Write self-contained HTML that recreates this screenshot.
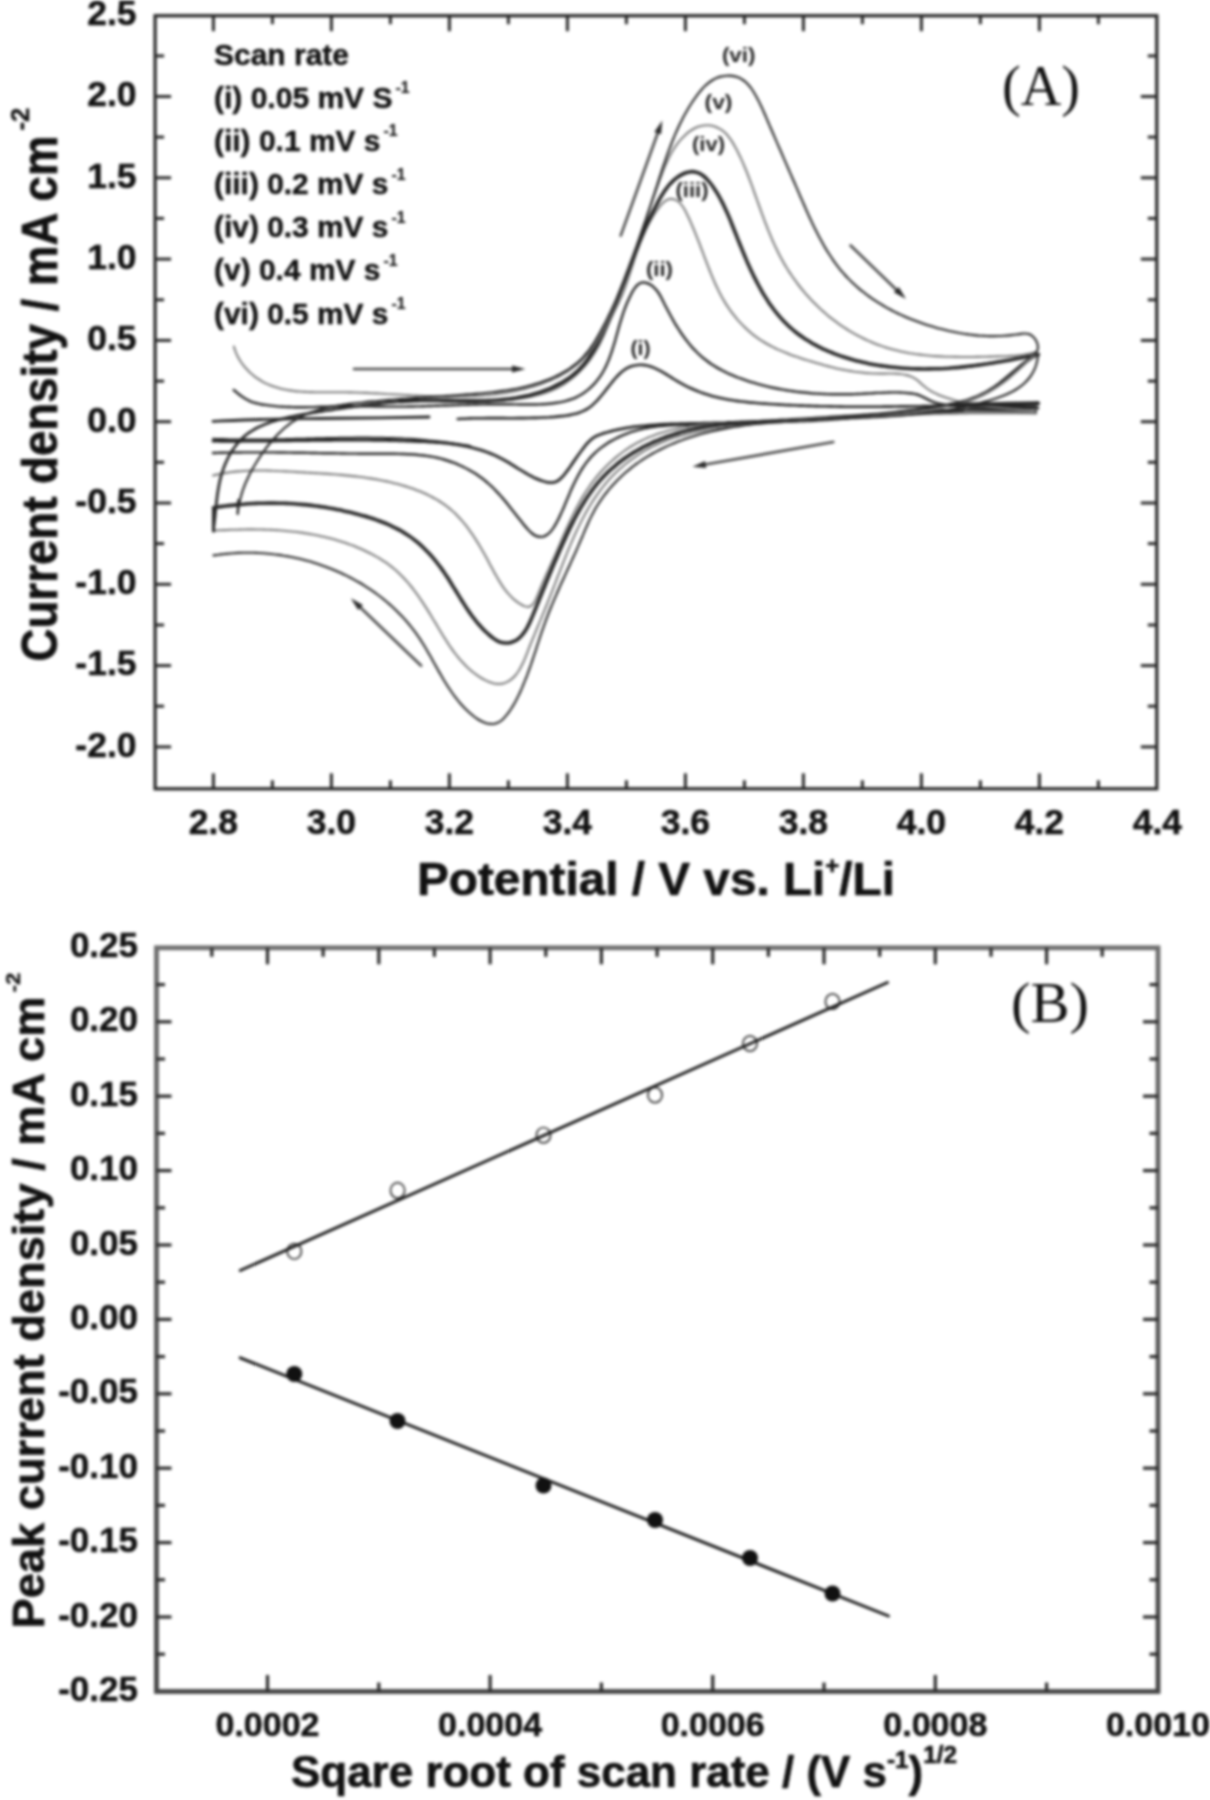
<!DOCTYPE html>
<html lang="en"><head><meta charset="utf-8"><title>Cyclic voltammograms and peak current plot</title>
<style>html,body{margin:0;padding:0;background:#fff;}body{width:1210px;height:1800px;overflow:hidden;}svg{display:block;filter:blur(1.4px);}</style>
</head><body>
<svg width="1210" height="1800" viewBox="0 0 1210 1800">
<rect x="-20" y="-20" width="1250" height="1840" fill="#fff"/>
<g id="plotA">
<rect x="155.1" y="15.7" width="1001.7" height="773.1" fill="none" stroke="#2a2a2a" stroke-width="3.3"/>
<line x1="213.4" y1="788.8" x2="213.4" y2="773.3" stroke="#2a2a2a" stroke-width="3.0" stroke-linecap="butt"/>
<line x1="213.4" y1="15.7" x2="213.4" y2="31.2" stroke="#2a2a2a" stroke-width="3.0" stroke-linecap="butt"/>
<line x1="272.4" y1="788.8" x2="272.4" y2="780.3" stroke="#2a2a2a" stroke-width="3.0" stroke-linecap="butt"/>
<line x1="272.4" y1="15.7" x2="272.4" y2="24.2" stroke="#2a2a2a" stroke-width="3.0" stroke-linecap="butt"/>
<line x1="331.4" y1="788.8" x2="331.4" y2="773.3" stroke="#2a2a2a" stroke-width="3.0" stroke-linecap="butt"/>
<line x1="331.4" y1="15.7" x2="331.4" y2="31.2" stroke="#2a2a2a" stroke-width="3.0" stroke-linecap="butt"/>
<line x1="390.4" y1="788.8" x2="390.4" y2="780.3" stroke="#2a2a2a" stroke-width="3.0" stroke-linecap="butt"/>
<line x1="390.4" y1="15.7" x2="390.4" y2="24.2" stroke="#2a2a2a" stroke-width="3.0" stroke-linecap="butt"/>
<line x1="449.4" y1="788.8" x2="449.4" y2="773.3" stroke="#2a2a2a" stroke-width="3.0" stroke-linecap="butt"/>
<line x1="449.4" y1="15.7" x2="449.4" y2="31.2" stroke="#2a2a2a" stroke-width="3.0" stroke-linecap="butt"/>
<line x1="508.4" y1="788.8" x2="508.4" y2="780.3" stroke="#2a2a2a" stroke-width="3.0" stroke-linecap="butt"/>
<line x1="508.4" y1="15.7" x2="508.4" y2="24.2" stroke="#2a2a2a" stroke-width="3.0" stroke-linecap="butt"/>
<line x1="567.4" y1="788.8" x2="567.4" y2="773.3" stroke="#2a2a2a" stroke-width="3.0" stroke-linecap="butt"/>
<line x1="567.4" y1="15.7" x2="567.4" y2="31.2" stroke="#2a2a2a" stroke-width="3.0" stroke-linecap="butt"/>
<line x1="626.4" y1="788.8" x2="626.4" y2="780.3" stroke="#2a2a2a" stroke-width="3.0" stroke-linecap="butt"/>
<line x1="626.4" y1="15.7" x2="626.4" y2="24.2" stroke="#2a2a2a" stroke-width="3.0" stroke-linecap="butt"/>
<line x1="685.4" y1="788.8" x2="685.4" y2="773.3" stroke="#2a2a2a" stroke-width="3.0" stroke-linecap="butt"/>
<line x1="685.4" y1="15.7" x2="685.4" y2="31.2" stroke="#2a2a2a" stroke-width="3.0" stroke-linecap="butt"/>
<line x1="744.4" y1="788.8" x2="744.4" y2="780.3" stroke="#2a2a2a" stroke-width="3.0" stroke-linecap="butt"/>
<line x1="744.4" y1="15.7" x2="744.4" y2="24.2" stroke="#2a2a2a" stroke-width="3.0" stroke-linecap="butt"/>
<line x1="803.4" y1="788.8" x2="803.4" y2="773.3" stroke="#2a2a2a" stroke-width="3.0" stroke-linecap="butt"/>
<line x1="803.4" y1="15.7" x2="803.4" y2="31.2" stroke="#2a2a2a" stroke-width="3.0" stroke-linecap="butt"/>
<line x1="862.4" y1="788.8" x2="862.4" y2="780.3" stroke="#2a2a2a" stroke-width="3.0" stroke-linecap="butt"/>
<line x1="862.4" y1="15.7" x2="862.4" y2="24.2" stroke="#2a2a2a" stroke-width="3.0" stroke-linecap="butt"/>
<line x1="921.4" y1="788.8" x2="921.4" y2="773.3" stroke="#2a2a2a" stroke-width="3.0" stroke-linecap="butt"/>
<line x1="921.4" y1="15.7" x2="921.4" y2="31.2" stroke="#2a2a2a" stroke-width="3.0" stroke-linecap="butt"/>
<line x1="980.4" y1="788.8" x2="980.4" y2="780.3" stroke="#2a2a2a" stroke-width="3.0" stroke-linecap="butt"/>
<line x1="980.4" y1="15.7" x2="980.4" y2="24.2" stroke="#2a2a2a" stroke-width="3.0" stroke-linecap="butt"/>
<line x1="1039.4" y1="788.8" x2="1039.4" y2="773.3" stroke="#2a2a2a" stroke-width="3.0" stroke-linecap="butt"/>
<line x1="1039.4" y1="15.7" x2="1039.4" y2="31.2" stroke="#2a2a2a" stroke-width="3.0" stroke-linecap="butt"/>
<line x1="1098.4" y1="788.8" x2="1098.4" y2="780.3" stroke="#2a2a2a" stroke-width="3.0" stroke-linecap="butt"/>
<line x1="1098.4" y1="15.7" x2="1098.4" y2="24.2" stroke="#2a2a2a" stroke-width="3.0" stroke-linecap="butt"/>
<line x1="155.1" y1="746.9" x2="171.1" y2="746.9" stroke="#2a2a2a" stroke-width="3.0" stroke-linecap="butt"/>
<line x1="1156.8" y1="746.9" x2="1140.8" y2="746.9" stroke="#2a2a2a" stroke-width="3.0" stroke-linecap="butt"/>
<line x1="155.1" y1="706.2" x2="164.1" y2="706.2" stroke="#2a2a2a" stroke-width="3.0" stroke-linecap="butt"/>
<line x1="1156.8" y1="706.2" x2="1147.8" y2="706.2" stroke="#2a2a2a" stroke-width="3.0" stroke-linecap="butt"/>
<line x1="155.1" y1="665.6" x2="171.1" y2="665.6" stroke="#2a2a2a" stroke-width="3.0" stroke-linecap="butt"/>
<line x1="1156.8" y1="665.6" x2="1140.8" y2="665.6" stroke="#2a2a2a" stroke-width="3.0" stroke-linecap="butt"/>
<line x1="155.1" y1="625" x2="164.1" y2="625" stroke="#2a2a2a" stroke-width="3.0" stroke-linecap="butt"/>
<line x1="1156.8" y1="625" x2="1147.8" y2="625" stroke="#2a2a2a" stroke-width="3.0" stroke-linecap="butt"/>
<line x1="155.1" y1="584.3" x2="171.1" y2="584.3" stroke="#2a2a2a" stroke-width="3.0" stroke-linecap="butt"/>
<line x1="1156.8" y1="584.3" x2="1140.8" y2="584.3" stroke="#2a2a2a" stroke-width="3.0" stroke-linecap="butt"/>
<line x1="155.1" y1="543.6" x2="164.1" y2="543.6" stroke="#2a2a2a" stroke-width="3.0" stroke-linecap="butt"/>
<line x1="1156.8" y1="543.6" x2="1147.8" y2="543.6" stroke="#2a2a2a" stroke-width="3.0" stroke-linecap="butt"/>
<line x1="155.1" y1="503" x2="171.1" y2="503" stroke="#2a2a2a" stroke-width="3.0" stroke-linecap="butt"/>
<line x1="1156.8" y1="503" x2="1140.8" y2="503" stroke="#2a2a2a" stroke-width="3.0" stroke-linecap="butt"/>
<line x1="155.1" y1="462.3" x2="164.1" y2="462.3" stroke="#2a2a2a" stroke-width="3.0" stroke-linecap="butt"/>
<line x1="1156.8" y1="462.3" x2="1147.8" y2="462.3" stroke="#2a2a2a" stroke-width="3.0" stroke-linecap="butt"/>
<line x1="155.1" y1="421.7" x2="171.1" y2="421.7" stroke="#2a2a2a" stroke-width="3.0" stroke-linecap="butt"/>
<line x1="1156.8" y1="421.7" x2="1140.8" y2="421.7" stroke="#2a2a2a" stroke-width="3.0" stroke-linecap="butt"/>
<line x1="155.1" y1="381.1" x2="164.1" y2="381.1" stroke="#2a2a2a" stroke-width="3.0" stroke-linecap="butt"/>
<line x1="1156.8" y1="381.1" x2="1147.8" y2="381.1" stroke="#2a2a2a" stroke-width="3.0" stroke-linecap="butt"/>
<line x1="155.1" y1="340.4" x2="171.1" y2="340.4" stroke="#2a2a2a" stroke-width="3.0" stroke-linecap="butt"/>
<line x1="1156.8" y1="340.4" x2="1140.8" y2="340.4" stroke="#2a2a2a" stroke-width="3.0" stroke-linecap="butt"/>
<line x1="155.1" y1="299.8" x2="164.1" y2="299.8" stroke="#2a2a2a" stroke-width="3.0" stroke-linecap="butt"/>
<line x1="1156.8" y1="299.8" x2="1147.8" y2="299.8" stroke="#2a2a2a" stroke-width="3.0" stroke-linecap="butt"/>
<line x1="155.1" y1="259.1" x2="171.1" y2="259.1" stroke="#2a2a2a" stroke-width="3.0" stroke-linecap="butt"/>
<line x1="1156.8" y1="259.1" x2="1140.8" y2="259.1" stroke="#2a2a2a" stroke-width="3.0" stroke-linecap="butt"/>
<line x1="155.1" y1="218.4" x2="164.1" y2="218.4" stroke="#2a2a2a" stroke-width="3.0" stroke-linecap="butt"/>
<line x1="1156.8" y1="218.4" x2="1147.8" y2="218.4" stroke="#2a2a2a" stroke-width="3.0" stroke-linecap="butt"/>
<line x1="155.1" y1="177.8" x2="171.1" y2="177.8" stroke="#2a2a2a" stroke-width="3.0" stroke-linecap="butt"/>
<line x1="1156.8" y1="177.8" x2="1140.8" y2="177.8" stroke="#2a2a2a" stroke-width="3.0" stroke-linecap="butt"/>
<line x1="155.1" y1="137.1" x2="164.1" y2="137.1" stroke="#2a2a2a" stroke-width="3.0" stroke-linecap="butt"/>
<line x1="1156.8" y1="137.1" x2="1147.8" y2="137.1" stroke="#2a2a2a" stroke-width="3.0" stroke-linecap="butt"/>
<line x1="155.1" y1="96.5" x2="171.1" y2="96.5" stroke="#2a2a2a" stroke-width="3.0" stroke-linecap="butt"/>
<line x1="1156.8" y1="96.5" x2="1140.8" y2="96.5" stroke="#2a2a2a" stroke-width="3.0" stroke-linecap="butt"/>
<line x1="155.1" y1="55.9" x2="164.1" y2="55.9" stroke="#2a2a2a" stroke-width="3.0" stroke-linecap="butt"/>
<line x1="1156.8" y1="55.9" x2="1147.8" y2="55.9" stroke="#2a2a2a" stroke-width="3.0" stroke-linecap="butt"/>
<text x="213.4" y="834" font-family='"Liberation Sans", Arial, sans-serif' font-size="35.5" font-weight="bold" text-anchor="middle" fill="#111" stroke="#111" stroke-width="0.50" stroke-linejoin="round">2.8</text>
<text x="331.4" y="834" font-family='"Liberation Sans", Arial, sans-serif' font-size="35.5" font-weight="bold" text-anchor="middle" fill="#111" stroke="#111" stroke-width="0.50" stroke-linejoin="round">3.0</text>
<text x="449.4" y="834" font-family='"Liberation Sans", Arial, sans-serif' font-size="35.5" font-weight="bold" text-anchor="middle" fill="#111" stroke="#111" stroke-width="0.50" stroke-linejoin="round">3.2</text>
<text x="567.4" y="834" font-family='"Liberation Sans", Arial, sans-serif' font-size="35.5" font-weight="bold" text-anchor="middle" fill="#111" stroke="#111" stroke-width="0.50" stroke-linejoin="round">3.4</text>
<text x="685.4" y="834" font-family='"Liberation Sans", Arial, sans-serif' font-size="35.5" font-weight="bold" text-anchor="middle" fill="#111" stroke="#111" stroke-width="0.50" stroke-linejoin="round">3.6</text>
<text x="803.4" y="834" font-family='"Liberation Sans", Arial, sans-serif' font-size="35.5" font-weight="bold" text-anchor="middle" fill="#111" stroke="#111" stroke-width="0.50" stroke-linejoin="round">3.8</text>
<text x="921.4" y="834" font-family='"Liberation Sans", Arial, sans-serif' font-size="35.5" font-weight="bold" text-anchor="middle" fill="#111" stroke="#111" stroke-width="0.50" stroke-linejoin="round">4.0</text>
<text x="1039.4" y="834" font-family='"Liberation Sans", Arial, sans-serif' font-size="35.5" font-weight="bold" text-anchor="middle" fill="#111" stroke="#111" stroke-width="0.50" stroke-linejoin="round">4.2</text>
<text x="1157.4" y="834" font-family='"Liberation Sans", Arial, sans-serif' font-size="35.5" font-weight="bold" text-anchor="middle" fill="#111" stroke="#111" stroke-width="0.50" stroke-linejoin="round">4.4</text>
<text x="136.5" y="25" font-family='"Liberation Sans", Arial, sans-serif' font-size="35.5" font-weight="bold" text-anchor="end" fill="#111" stroke="#111" stroke-width="0.50" stroke-linejoin="round">2.5</text>
<text x="136.5" y="106.3" font-family='"Liberation Sans", Arial, sans-serif' font-size="35.5" font-weight="bold" text-anchor="end" fill="#111" stroke="#111" stroke-width="0.50" stroke-linejoin="round">2.0</text>
<text x="136.5" y="187.6" font-family='"Liberation Sans", Arial, sans-serif' font-size="35.5" font-weight="bold" text-anchor="end" fill="#111" stroke="#111" stroke-width="0.50" stroke-linejoin="round">1.5</text>
<text x="136.5" y="268.9" font-family='"Liberation Sans", Arial, sans-serif' font-size="35.5" font-weight="bold" text-anchor="end" fill="#111" stroke="#111" stroke-width="0.50" stroke-linejoin="round">1.0</text>
<text x="136.5" y="350.2" font-family='"Liberation Sans", Arial, sans-serif' font-size="35.5" font-weight="bold" text-anchor="end" fill="#111" stroke="#111" stroke-width="0.50" stroke-linejoin="round">0.5</text>
<text x="136.5" y="431.5" font-family='"Liberation Sans", Arial, sans-serif' font-size="35.5" font-weight="bold" text-anchor="end" fill="#111" stroke="#111" stroke-width="0.50" stroke-linejoin="round">0.0</text>
<text x="136.5" y="512.8" font-family='"Liberation Sans", Arial, sans-serif' font-size="35.5" font-weight="bold" text-anchor="end" fill="#111" stroke="#111" stroke-width="0.50" stroke-linejoin="round">-0.5</text>
<text x="136.5" y="594.1" font-family='"Liberation Sans", Arial, sans-serif' font-size="35.5" font-weight="bold" text-anchor="end" fill="#111" stroke="#111" stroke-width="0.50" stroke-linejoin="round">-1.0</text>
<text x="136.5" y="675.4" font-family='"Liberation Sans", Arial, sans-serif' font-size="35.5" font-weight="bold" text-anchor="end" fill="#111" stroke="#111" stroke-width="0.50" stroke-linejoin="round">-1.5</text>
<text x="136.5" y="756.7" font-family='"Liberation Sans", Arial, sans-serif' font-size="35.5" font-weight="bold" text-anchor="end" fill="#111" stroke="#111" stroke-width="0.50" stroke-linejoin="round">-2.0</text>
<text x="417" y="895" font-family='"Liberation Sans", Arial, sans-serif' font-size="46" font-weight="bold" text-anchor="start" fill="#111" textLength="478" lengthAdjust="spacingAndGlyphs" stroke="#111" stroke-width="0.64" stroke-linejoin="round">Potential / V vs. Li<tspan dy="-21" font-size="23">+</tspan><tspan dy="21">/Li</tspan></text>
<g transform="translate(57.3 661.5) rotate(-90)">
<text x="0" y="0" font-family='"Liberation Sans", Arial, sans-serif' font-size="49.5" font-weight="bold" text-anchor="start" fill="#111" textLength="526" lengthAdjust="spacingAndGlyphs" stroke="#111" stroke-width="0.69" stroke-linejoin="round">Current density / mA cm</text>
<text x="531" y="-28.5" font-family='"Liberation Sans", Arial, sans-serif' font-size="25" font-weight="bold" text-anchor="start" fill="#111" textLength="23" lengthAdjust="spacingAndGlyphs" stroke="#111" stroke-width="0.35" stroke-linejoin="round">-2</text>
</g>
<text x="1041" y="105" font-family='"Liberation Serif", "Times New Roman", serif' font-size="56" font-weight="normal" text-anchor="middle" fill="#111" textLength="78" lengthAdjust="spacingAndGlyphs">(A)</text>
<text x="214" y="64.7" font-family='"Liberation Sans", Arial, sans-serif' font-size="29" font-weight="bold" text-anchor="start" fill="#111" textLength="135" lengthAdjust="spacingAndGlyphs" stroke="#111" stroke-width="0.41" stroke-linejoin="round">Scan rate</text>
<text x="214" y="107.6" font-family='"Liberation Sans", Arial, sans-serif' font-size="29" font-weight="bold" text-anchor="start" fill="#111" textLength="178.5" lengthAdjust="spacingAndGlyphs" stroke="#111" stroke-width="0.41" stroke-linejoin="round">(i) 0.05 mV S</text>
<text x="395.5" y="93.1" font-family='"Liberation Sans", Arial, sans-serif' font-size="16" font-weight="bold" text-anchor="start" fill="#111" textLength="14" lengthAdjust="spacingAndGlyphs" stroke="#111" stroke-width="0.22" stroke-linejoin="round">-1</text>
<text x="214" y="150.8" font-family='"Liberation Sans", Arial, sans-serif' font-size="29" font-weight="bold" text-anchor="start" fill="#111" textLength="166.5" lengthAdjust="spacingAndGlyphs" stroke="#111" stroke-width="0.41" stroke-linejoin="round">(ii) 0.1 mV s</text>
<text x="383.5" y="136.3" font-family='"Liberation Sans", Arial, sans-serif' font-size="16" font-weight="bold" text-anchor="start" fill="#111" textLength="14" lengthAdjust="spacingAndGlyphs" stroke="#111" stroke-width="0.22" stroke-linejoin="round">-1</text>
<text x="214" y="194" font-family='"Liberation Sans", Arial, sans-serif' font-size="29" font-weight="bold" text-anchor="start" fill="#111" textLength="174.5" lengthAdjust="spacingAndGlyphs" stroke="#111" stroke-width="0.41" stroke-linejoin="round">(iii) 0.2 mV s</text>
<text x="391.5" y="179.5" font-family='"Liberation Sans", Arial, sans-serif' font-size="16" font-weight="bold" text-anchor="start" fill="#111" textLength="14" lengthAdjust="spacingAndGlyphs" stroke="#111" stroke-width="0.22" stroke-linejoin="round">-1</text>
<text x="214" y="237.2" font-family='"Liberation Sans", Arial, sans-serif' font-size="29" font-weight="bold" text-anchor="start" fill="#111" textLength="174.5" lengthAdjust="spacingAndGlyphs" stroke="#111" stroke-width="0.41" stroke-linejoin="round">(iv) 0.3 mV s</text>
<text x="391.5" y="222.7" font-family='"Liberation Sans", Arial, sans-serif' font-size="16" font-weight="bold" text-anchor="start" fill="#111" textLength="14" lengthAdjust="spacingAndGlyphs" stroke="#111" stroke-width="0.22" stroke-linejoin="round">-1</text>
<text x="214" y="280.4" font-family='"Liberation Sans", Arial, sans-serif' font-size="29" font-weight="bold" text-anchor="start" fill="#111" textLength="166.5" lengthAdjust="spacingAndGlyphs" stroke="#111" stroke-width="0.41" stroke-linejoin="round">(v) 0.4 mV s</text>
<text x="383.5" y="265.9" font-family='"Liberation Sans", Arial, sans-serif' font-size="16" font-weight="bold" text-anchor="start" fill="#111" textLength="14" lengthAdjust="spacingAndGlyphs" stroke="#111" stroke-width="0.22" stroke-linejoin="round">-1</text>
<text x="214" y="323.6" font-family='"Liberation Sans", Arial, sans-serif' font-size="29" font-weight="bold" text-anchor="start" fill="#111" textLength="174.5" lengthAdjust="spacingAndGlyphs" stroke="#111" stroke-width="0.41" stroke-linejoin="round">(vi) 0.5 mV s</text>
<text x="391.5" y="309.1" font-family='"Liberation Sans", Arial, sans-serif' font-size="16" font-weight="bold" text-anchor="start" fill="#111" textLength="14" lengthAdjust="spacingAndGlyphs" stroke="#111" stroke-width="0.22" stroke-linejoin="round">-1</text>
<path d="M213 421.3C220.8 421 242.2 420 260 419.5C277.8 419 300 418.8 320 418.5C340 418.2 361.8 418.1 380 417.8C398.2 417.6 420.8 417.1 429 417" fill="none" stroke="#262626" stroke-width="2.8" stroke-linecap="round" stroke-linejoin="round"/>
<path d="M457.7 419C458.6 419 461.1 418.8 462.7 418.7C464.4 418.7 466.1 418.6 467.7 418.5C469.4 418.4 471.1 418.4 472.8 418.3C474.4 418.3 476.1 418.3 477.8 418.2C479.5 418.2 481.2 418.2 482.9 418.2C484.5 418.1 486.2 418.1 487.9 418.1C489.6 418.1 491.3 418.1 493 418.1C494.7 418.1 496.4 418.1 498.1 418.1C499.8 418.1 501.5 418.1 503.2 418.1C504.9 418.1 506.6 418.1 508.3 418.2C510 418.2 511.7 418.2 513.4 418.2C515.1 418.2 516.8 418.2 518.5 418.1C520.2 418.1 521.9 418.1 523.6 418.1C525.3 418.1 527 418.1 528.7 418C530.4 418 532.1 418 533.8 417.9C535.5 417.9 537.2 417.8 538.9 417.8C540.6 417.7 542.3 417.6 544 417.5C545.7 417.5 547.4 417.4 549.1 417.3C550.8 417.1 552.5 417 554.2 416.9C555.8 416.7 557.5 416.6 559.2 416.4C560.9 416.3 562.6 416.1 564.3 415.9C565.9 415.6 567.6 415.4 569.2 415.1C570.9 414.8 572.5 414.5 574.1 414.1C575.7 413.7 577.3 413.3 578.9 412.7C580.4 412.2 581.9 411.6 583.4 410.9C584.9 410.2 586.3 409.5 587.7 408.6C589.1 407.7 590.4 406.7 591.7 405.7C593 404.6 594.2 403.5 595.5 402.2C596.7 401 597.9 399.7 599 398.4C600.2 397.1 601.4 395.7 602.5 394.3C603.6 392.9 604.7 391.5 605.8 390.1C606.9 388.6 608 387.2 609.2 385.8C610.3 384.4 611.4 383 612.5 381.6C613.6 380.3 614.7 378.9 615.9 377.6C617 376.4 618.2 375.1 619.4 374C620.6 372.9 621.8 371.8 623.1 370.8C624.4 369.9 625.7 369 627 368.2C628.4 367.5 629.8 366.8 631.2 366.3C632.7 365.8 634.2 365.4 635.7 365.2C637.2 364.9 638.7 364.8 640.3 364.8C641.8 364.8 643.4 364.9 645 365.1C646.5 365.4 648.1 365.7 649.7 366.2C651.2 366.7 652.8 367.3 654.3 367.9C655.9 368.6 657.4 369.4 658.9 370.2C660.5 371 662 371.8 663.5 372.7C665.1 373.6 666.6 374.6 668.1 375.5C669.6 376.5 671.1 377.4 672.6 378.4C674.2 379.3 675.7 380.2 677.2 381.1C678.7 382 680.2 382.9 681.7 383.7C683.2 384.5 684.7 385.3 686.3 386.1C687.8 386.9 689.3 387.6 690.8 388.3C692.3 389 693.9 389.7 695.4 390.3C696.9 390.9 698.5 391.5 700.1 392.1C701.6 392.7 703.2 393.2 704.8 393.8C706.3 394.3 707.9 394.8 709.5 395.2C711.1 395.7 712.7 396.1 714.3 396.6C715.9 397 717.6 397.4 719.2 397.7C720.8 398.1 722.5 398.4 724.1 398.8C725.7 399.1 727.4 399.4 729 399.7C730.7 400 732.4 400.2 734 400.5C735.7 400.7 737.4 401 739 401.2C740.7 401.4 742.4 401.6 744.1 401.8C745.7 402 747.4 402.2 749.1 402.4C750.8 402.5 752.5 402.7 754.2 402.8C755.9 403 757.6 403.1 759.3 403.2C761 403.4 762.7 403.5 764.4 403.6C766.1 403.7 767.7 403.9 769.4 404C771.1 404.1 772.8 404.2 774.5 404.3C776.2 404.4 777.9 404.5 779.6 404.6C781.3 404.7 783 404.8 784.7 404.9C786.4 404.9 788.1 405 789.8 405.1C791.5 405.2 793.2 405.3 794.9 405.3C796.6 405.4 798.2 405.5 799.9 405.6C801.6 405.6 803.3 405.7 805 405.7C806.7 405.8 808.4 405.9 810.1 405.9C811.8 406 813.5 406 815.2 406.1C816.9 406.1 818.5 406.2 820.2 406.2C821.9 406.3 823.6 406.3 825.3 406.3C827 406.4 828.7 406.4 830.4 406.4C832.1 406.5 833.7 406.5 835.4 406.5C837.1 406.6 838.8 406.6 840.5 406.6C842.2 406.6 843.9 406.6 845.6 406.7C847.3 406.7 848.9 406.7 850.6 406.7C852.3 406.7 854 406.7 855.7 406.7C857.4 406.7 859.1 406.7 860.8 406.7C862.5 406.7 864.1 406.7 865.8 406.7C867.5 406.7 869.2 406.7 870.9 406.7C872.6 406.7 874.3 406.7 875.9 406.7C877.6 406.7 879.3 406.7 881 406.7C882.7 406.7 884.4 406.6 886.1 406.6C887.8 406.6 889.4 406.6 891.1 406.6C892.8 406.6 894.5 406.5 896.2 406.5C897.9 406.5 899.6 406.5 901.2 406.4C902.9 406.4 904.6 406.4 906.3 406.4C908 406.3 909.7 406.3 911.4 406.3C913.1 406.2 914.7 406.2 916.4 406.2C918.1 406.1 919.8 406.1 921.5 406.1C923.2 406 924.9 406 926.5 406C928.2 405.9 929.9 405.9 931.6 405.9C933.3 405.8 935 405.8 936.7 405.7C938.3 405.7 940 405.6 941.7 405.6C943.4 405.6 945.1 405.5 946.8 405.5C948.5 405.4 950.2 405.4 951.8 405.3C953.5 405.3 955.2 405.3 956.9 405.2C958.6 405.2 960.3 405.1 962 405.1C963.7 405 965.3 405 967 404.9C968.7 404.9 970.4 404.8 972.1 404.8C973.8 404.7 975.5 404.7 977.2 404.7C978.8 404.6 980.5 404.6 982.2 404.5C983.9 404.5 985.6 404.4 987.3 404.4C989 404.3 990.7 404.3 992.4 404.2C994.1 404.2 995.7 404.1 997.4 404.1C999.1 404 1000.8 404 1002.5 404C1004.2 403.9 1005.9 403.9 1007.6 403.8C1009.3 403.8 1011 403.7 1012.6 403.7C1014.3 403.7 1016 403.6 1017.7 403.6C1019.4 403.5 1021.1 403.5 1022.8 403.4C1024.5 403.4 1026.2 403.4 1027.9 403.3C1029.6 403.3 1031.3 403.3 1033 403.2C1034.6 403.2 1037.2 403.1 1038 403.1" fill="none" stroke="#262626" stroke-width="2.6" stroke-linecap="round" stroke-linejoin="round"/>
<path d="M1038 408.2C1037.2 408.2 1034.7 408.2 1033 408.2C1031.3 408.2 1029.6 408.2 1027.9 408.2C1026.2 408.2 1024.6 408.2 1022.9 408.2C1021.2 408.2 1019.5 408.2 1017.8 408.3C1016.1 408.3 1014.5 408.3 1012.8 408.3C1011.1 408.3 1009.4 408.4 1007.7 408.4C1006 408.4 1004.4 408.4 1002.7 408.5C1001 408.5 999.3 408.5 997.6 408.6C996 408.6 994.3 408.7 992.6 408.7C990.9 408.7 989.2 408.8 987.6 408.8C985.9 408.9 984.2 408.9 982.5 409C980.8 409 979.2 409.1 977.5 409.1C975.8 409.2 974.1 409.2 972.4 409.3C970.8 409.4 969.1 409.4 967.4 409.5C965.7 409.5 964 409.6 962.4 409.7C960.7 409.7 959 409.8 957.3 409.9C955.6 409.9 954 410 952.3 410.1C950.6 410.2 948.9 410.2 947.3 410.3C945.6 410.4 943.9 410.5 942.2 410.5C940.5 410.6 938.9 410.7 937.2 410.8C935.5 410.9 933.8 410.9 932.2 411C930.5 411.1 928.8 411.2 927.1 411.3C925.5 411.4 923.8 411.5 922.1 411.6C920.4 411.6 918.8 411.7 917.1 411.8C915.4 411.9 913.7 412 912 412.1C910.4 412.2 908.7 412.3 907 412.4C905.3 412.5 903.7 412.6 902 412.7C900.3 412.8 898.6 412.9 897 413C895.3 413.1 893.6 413.2 891.9 413.3C890.3 413.4 888.6 413.5 886.9 413.6C885.2 413.7 883.6 413.8 881.9 413.9C880.2 414 878.5 414.1 876.9 414.2C875.2 414.3 873.5 414.4 871.8 414.5C870.2 414.6 868.5 414.7 866.8 414.8C865.1 414.9 863.5 415 861.8 415.1C860.1 415.2 858.4 415.3 856.8 415.5C855.1 415.6 853.4 415.7 851.7 415.8C850.1 415.9 848.4 416 846.7 416.1C845 416.2 843.4 416.3 841.7 416.4C840 416.5 838.3 416.6 836.7 416.7C835 416.8 833.3 416.9 831.6 417C830 417.2 828.3 417.3 826.6 417.4C824.9 417.5 823.2 417.6 821.6 417.7C819.9 417.8 818.2 417.9 816.5 418C814.9 418.1 813.2 418.2 811.5 418.3C809.8 418.4 808.2 418.5 806.5 418.6C804.8 418.7 803.1 418.8 801.5 418.9C799.8 419 798.1 419.1 796.4 419.2C794.8 419.3 793.1 419.4 791.4 419.5C789.7 419.6 788 419.7 786.4 419.8C784.7 419.9 783 420 781.3 420C779.7 420.1 778 420.2 776.3 420.3C774.6 420.4 772.9 420.5 771.3 420.6C769.6 420.7 767.9 420.8 766.2 420.8C764.6 420.9 762.9 421 761.2 421.1C759.5 421.2 757.8 421.3 756.2 421.3C754.5 421.4 752.8 421.5 751.1 421.6C749.4 421.6 747.8 421.7 746.1 421.8C744.4 421.9 742.7 421.9 741 422C739.4 422.1 737.7 422.1 736 422.2C734.3 422.3 732.6 422.3 731 422.4C729.3 422.5 727.6 422.5 725.9 422.6C724.2 422.6 722.5 422.7 720.9 422.8C719.2 422.8 717.5 422.9 715.8 422.9C714.1 423 712.4 423 710.8 423.1C709.1 423.1 707.4 423.2 705.7 423.2C704 423.2 702.3 423.3 700.7 423.3C699 423.3 697.3 423.4 695.6 423.4C693.9 423.5 692.2 423.5 690.5 423.5C688.9 423.6 687.2 423.6 685.5 423.6C683.8 423.7 682.1 423.7 680.4 423.7C678.8 423.8 677.1 423.8 675.4 423.9C673.7 423.9 672 424 670.3 424C668.7 424.1 667 424.1 665.3 424.2C663.6 424.3 661.9 424.4 660.3 424.5C658.6 424.6 656.9 424.7 655.2 424.8C653.6 424.9 651.9 425 650.2 425.1C648.6 425.3 646.9 425.4 645.2 425.6C643.6 425.7 641.9 425.9 640.2 426.1C638.6 426.3 636.9 426.5 635.3 426.7C633.6 426.9 632 427.1 630.3 427.4C628.7 427.6 627 427.9 625.4 428.2C623.7 428.5 622.1 428.8 620.4 429.1C618.8 429.4 617.2 429.8 615.5 430.2C613.9 430.5 612.3 430.9 610.6 431.3C609 431.8 607.4 432.2 605.8 432.7C604.1 433.1 602.5 433.6 601 434.2C599.4 434.8 597.8 435.4 596.4 436.1C594.9 436.9 593.5 437.7 592.2 438.7C590.9 439.7 589.6 440.9 588.5 442.1C587.3 443.3 586.2 444.6 585.1 445.9C584.1 447.2 583 448.6 582 450C581 451.3 580 452.7 579 454C578 455.4 577.1 456.7 576.1 458.1C575.1 459.5 574.1 460.9 573.1 462.4C572.2 463.8 571.2 465.3 570.2 466.7C569.1 468.2 568.1 469.7 567 471.1C565.9 472.6 564.8 474 563.7 475.4C562.5 476.7 561.3 478.1 560 479.1C558.7 480.2 557.4 481.1 556 481.7C554.6 482.3 553.2 482.6 551.7 482.7C550.2 482.8 548.7 482.5 547.2 482.3C545.7 482 544.1 481.5 542.6 481C541.1 480.6 539.6 480 538.1 479.4C536.6 478.7 535.1 478.1 533.6 477.4C532.2 476.6 530.7 475.9 529.2 475.1C527.8 474.3 526.3 473.4 524.8 472.6C523.4 471.7 521.9 470.8 520.4 469.9C519 469.1 517.5 468.1 516 467.2C514.6 466.3 513.1 465.4 511.6 464.5C510.2 463.6 508.7 462.7 507.2 461.8C505.7 461 504.2 460.1 502.7 459.3C501.2 458.5 499.7 457.7 498.2 456.9C496.6 456.2 495.1 455.5 493.6 454.8C492 454.1 490.5 453.5 488.9 452.9C487.3 452.3 485.8 451.7 484.2 451.1C482.6 450.6 481 450.1 479.4 449.6C477.8 449.1 476.2 448.7 474.6 448.3C473 447.9 471.3 447.5 469.7 447.1C468.1 446.7 466.4 446.4 464.8 446.1C463.2 445.7 461.5 445.4 459.9 445.2C458.2 444.9 456.6 444.6 454.9 444.4C453.2 444.2 451.6 443.9 449.9 443.7C448.2 443.5 446.5 443.4 444.9 443.2C443.2 443 441.5 442.9 439.8 442.7C438.1 442.6 436.5 442.5 434.8 442.3C433.1 442.2 431.4 442.1 429.7 442C428 441.9 426.3 441.8 424.7 441.7C423 441.7 421.3 441.6 419.6 441.5C417.9 441.4 416.2 441.3 414.5 441.3C412.8 441.2 411.2 441.1 409.5 441.1C407.8 441 406.1 441 404.4 440.9C402.7 440.9 401 440.8 399.4 440.8C397.7 440.7 396 440.7 394.3 440.6C392.6 440.6 390.9 440.5 389.3 440.5C387.6 440.5 385.9 440.4 384.2 440.4C382.5 440.4 380.9 440.4 379.2 440.3C377.5 440.3 375.8 440.3 374.1 440.3C372.5 440.2 370.8 440.2 369.1 440.2C367.4 440.2 365.8 440.2 364.1 440.2C362.4 440.2 360.7 440.2 359.1 440.2C357.4 440.2 355.7 440.2 354 440.2C352.3 440.2 350.7 440.2 349 440.2C347.3 440.2 345.6 440.2 344 440.2C342.3 440.2 340.6 440.2 338.9 440.2C337.3 440.2 335.6 440.2 333.9 440.2C332.2 440.2 330.6 440.3 328.9 440.3C327.2 440.3 325.5 440.3 323.9 440.3C322.2 440.3 320.5 440.4 318.8 440.4C317.2 440.4 315.5 440.4 313.8 440.4C312.1 440.4 310.5 440.5 308.8 440.5C307.1 440.5 305.4 440.5 303.8 440.6C302.1 440.6 300.4 440.6 298.7 440.6C297.1 440.6 295.4 440.7 293.7 440.7C292 440.7 290.4 440.7 288.7 440.8C287 440.8 285.3 440.8 283.7 440.8C282 440.9 280.3 440.9 278.6 440.9C276.9 440.9 275.3 440.9 273.6 441C271.9 441 270.2 441 268.6 441C266.9 441 265.2 441.1 263.5 441.1C261.8 441.1 260.2 441.1 258.5 441.1C256.8 441.1 255.1 441.2 253.4 441.2C251.8 441.2 250.1 441.2 248.4 441.2C246.7 441.2 245 441.2 243.3 441.2C241.7 441.2 240 441.3 238.3 441.3C236.6 441.3 234.9 441.3 233.2 441.3C231.6 441.3 229.9 441.3 228.2 441.3C226.5 441.3 224.8 441.3 223.1 441.3C221.4 441.3 219.7 441.2 218.1 441.2C216.4 441.2 213.8 441.2 213 441.2" fill="none" stroke="#262626" stroke-width="2.8" stroke-linecap="round" stroke-linejoin="round"/>
<path d="M213 438.7C213.9 438.8 216.4 438.9 218.1 438.9C219.8 439 221.6 439.1 223.3 439.1C225 439.2 226.7 439.2 228.4 439.3C230.1 439.3 231.8 439.3 233.5 439.4C235.2 439.4 237 439.4 238.7 439.4C240.4 439.5 242.1 439.5 243.8 439.5C245.5 439.5 247.3 439.5 249 439.5C250.7 439.5 252.4 439.5 254.1 439.5C255.8 439.5 257.6 439.5 259.3 439.5C261 439.4 262.7 439.4 264.4 439.4C266.1 439.4 267.9 439.4 269.6 439.4C271.3 439.3 273 439.3 274.7 439.3C276.5 439.2 278.2 439.2 279.9 439.2C281.6 439.1 283.3 439.1 285.1 439.1C286.8 439 288.5 439 290.2 439C291.9 438.9 293.7 438.9 295.4 438.8C297.1 438.8 298.8 438.8 300.5 438.7C302.3 438.7 304 438.6 305.7 438.6C307.4 438.5 309.2 438.5 310.9 438.5C312.6 438.4 314.3 438.4 316 438.3C317.8 438.3 319.5 438.3 321.2 438.2C322.9 438.2 324.6 438.1 326.4 438.1C328.1 438.1 329.8 438 331.5 438C333.3 438 335 437.9 336.7 437.9C338.4 437.9 340.1 437.8 341.9 437.8C343.6 437.8 345.3 437.8 347 437.7C348.7 437.7 350.5 437.7 352.2 437.7C353.9 437.7 355.6 437.7 357.3 437.6C359.1 437.6 360.8 437.6 362.5 437.6C364.2 437.6 365.9 437.6 367.7 437.6C369.4 437.7 371.1 437.7 372.8 437.7C374.5 437.7 376.2 437.7 378 437.7C379.7 437.8 381.4 437.8 383.1 437.8C384.8 437.9 386.5 437.9 388.3 438C390 438 391.7 438.1 393.4 438.1C395.1 438.2 396.8 438.2 398.5 438.3C400.3 438.4 402 438.5 403.7 438.6C405.4 438.6 407.1 438.7 408.8 438.8C410.5 438.9 412.2 439 413.9 439.1C415.7 439.3 417.4 439.4 419.1 439.5C420.8 439.6 422.5 439.8 424.2 439.9C425.9 440.1 427.6 440.2 429.3 440.4C431 440.5 432.7 440.7 434.4 440.9C436.1 441.1 437.8 441.3 439.5 441.4C441.2 441.6 442.9 441.9 444.6 442.1C446.3 442.3 448 442.5 449.7 442.7C451.4 443 453.1 443.2 454.8 443.5C456.5 443.7 458.2 444 459.9 444.3C461.6 444.6 463.3 444.8 465 445.1C466.7 445.4 469.2 445.9 470.1 446.1" fill="none" stroke="#262626" stroke-width="2.0" stroke-linecap="round" stroke-linejoin="round"/>
<path d="M233.7 390C234.4 390.5 236.3 392.1 237.6 393.2C238.9 394.2 240.2 395.3 241.6 396.3C243 397.2 244.4 398.2 245.9 399C247.4 399.9 248.9 400.6 250.4 401.3C251.9 401.9 253.5 402.5 255.1 402.9C256.7 403.4 258.4 403.7 260 404.1C261.7 404.4 263.3 404.7 265 404.9C266.7 405.2 268.3 405.4 270 405.6C271.7 405.8 273.3 406 275 406.1C276.7 406.3 278.3 406.4 280 406.6C281.7 406.7 283.3 406.8 285 406.9C286.7 406.9 288.4 407 290 407C291.7 407.1 293.4 407.1 295.1 407.2C296.7 407.2 298.4 407.2 300.1 407.2C301.8 407.2 303.5 407.2 305.1 407.2C306.8 407.1 308.5 407.1 310.2 407.1C311.9 407 313.5 407 315.2 407C316.9 406.9 318.6 406.9 320.3 406.8C322 406.8 323.6 406.7 325.3 406.7C327 406.6 328.7 406.6 330.4 406.5C332 406.5 333.7 406.4 335.4 406.4C337.1 406.4 338.8 406.3 340.5 406.3C342.1 406.3 343.8 406.3 345.5 406.3C347.2 406.2 348.8 406.2 350.5 406.2C352.2 406.2 353.9 406.2 355.6 406.3C357.2 406.3 358.9 406.3 360.6 406.3C362.3 406.3 363.9 406.3 365.6 406.3C367.3 406.4 369 406.4 370.6 406.4C372.3 406.4 374 406.4 375.7 406.5C377.4 406.5 379 406.5 380.7 406.5C382.4 406.5 384.1 406.6 385.7 406.6C387.4 406.6 389.1 406.6 390.8 406.6C392.4 406.6 394.1 406.6 395.8 406.6C397.5 406.6 399.1 406.6 400.8 406.6C402.5 406.6 404.2 406.6 405.9 406.6C407.5 406.6 409.2 406.5 410.9 406.5C412.6 406.5 414.3 406.4 415.9 406.4C417.6 406.4 419.3 406.3 421 406.3C422.7 406.2 424.3 406.2 426 406.1C427.7 406.1 429.4 406 431.1 406C432.7 405.9 434.4 405.9 436.1 405.8C437.8 405.8 439.5 405.7 441.1 405.6C442.8 405.6 444.5 405.5 446.2 405.5C447.9 405.4 449.5 405.3 451.2 405.3C452.9 405.2 454.6 405.1 456.3 405.1C457.9 405 459.6 405 461.3 404.9C463 404.9 464.7 404.8 466.3 404.8C468 404.7 469.7 404.7 471.4 404.6C473 404.6 474.7 404.5 476.4 404.5C478.1 404.4 479.8 404.4 481.4 404.4C483.1 404.3 484.8 404.3 486.5 404.3C488.1 404.2 489.8 404.2 491.5 404.2C493.2 404.2 494.8 404.2 496.5 404.2C498.2 404.2 499.8 404.2 501.5 404.2C503.2 404.2 504.9 404.2 506.5 404.2C508.2 404.3 509.9 404.3 511.5 404.3C513.2 404.3 514.9 404.4 516.6 404.4C518.2 404.4 519.9 404.5 521.6 404.5C523.2 404.5 524.9 404.5 526.6 404.5C528.3 404.5 529.9 404.5 531.6 404.5C533.3 404.5 535 404.5 536.7 404.5C538.4 404.4 540.1 404.4 541.8 404.3C543.5 404.2 545.2 404.1 546.8 404C548.5 403.9 550.2 403.7 551.9 403.5C553.6 403.3 555.3 403.1 556.9 402.8C558.6 402.6 560.3 402.3 561.9 401.9C563.5 401.6 565.2 401.2 566.8 400.7C568.4 400.3 569.9 399.8 571.5 399.2C573.1 398.6 574.6 398 576.1 397.3C577.6 396.6 579.1 395.8 580.5 395C582 394.2 583.4 393.2 584.8 392.3C586.2 391.3 587.5 390.3 588.8 389.2C590.1 388.1 591.3 386.9 592.5 385.7C593.7 384.5 594.8 383.3 595.9 382C597 380.7 598 379.4 599 378.1C600 376.7 600.9 375.3 601.8 373.9C602.7 372.5 603.5 371 604.3 369.5C605.1 368.1 605.8 366.6 606.5 365C607.2 363.5 607.9 362 608.5 360.4C609.2 358.9 609.8 357.3 610.3 355.7C610.9 354.1 611.5 352.5 612 350.9C612.5 349.3 613 347.6 613.5 346C614 344.4 614.5 342.8 615 341.1C615.4 339.5 615.9 337.9 616.3 336.3C616.8 334.6 617.2 333 617.7 331.4C618.1 329.8 618.6 328.2 619 326.6C619.5 325 619.9 323.5 620.4 321.9C620.9 320.3 621.4 318.8 621.9 317.2C622.4 315.6 622.9 314.1 623.4 312.5C624 310.9 624.5 309.4 625.1 307.8C625.7 306.3 626.3 304.7 627 303.1C627.7 301.5 628.4 300 629.1 298.4C629.9 296.8 630.7 295.1 631.5 293.5C632.3 292 633.2 290.3 634.2 288.9C635.2 287.4 636.2 286 637.4 285C638.6 284 639.9 283.1 641.3 282.7C642.7 282.4 644.3 282.3 645.8 282.7C647.3 283 648.9 283.7 650.3 284.6C651.8 285.4 653.1 286.6 654.4 287.8C655.6 288.9 656.6 290.2 657.6 291.5C658.6 292.9 659.4 294.3 660.2 295.7C661.1 297.2 661.8 298.7 662.6 300.2C663.3 301.7 664.1 303.2 664.8 304.8C665.6 306.3 666.4 307.8 667.2 309.3C668 310.8 668.8 312.3 669.6 313.8C670.4 315.3 671.2 316.8 672.1 318.3C672.9 319.8 673.8 321.3 674.6 322.8C675.5 324.3 676.4 325.7 677.3 327.2C678.2 328.6 679.1 330.1 680.1 331.5C681 332.9 682 334.3 683 335.7C684 337.1 685 338.4 686 339.8C687 341.1 688.1 342.4 689.1 343.7C690.2 345 691.3 346.3 692.4 347.6C693.5 348.8 694.7 350 695.9 351.2C697 352.4 698.2 353.6 699.4 354.7C700.7 355.8 701.9 356.9 703.2 358C704.5 359 705.8 360 707.1 361C708.4 362 709.8 363 711.1 363.9C712.5 364.8 713.9 365.7 715.3 366.6C716.8 367.4 718.2 368.3 719.7 369.1C721.1 369.9 722.6 370.6 724.1 371.4C725.6 372.1 727.1 372.9 728.6 373.6C730.2 374.3 731.7 374.9 733.3 375.6C734.8 376.2 736.4 376.9 738 377.5C739.5 378.1 741.1 378.6 742.7 379.2C744.3 379.8 745.9 380.3 747.5 380.8C749.1 381.4 750.7 381.9 752.3 382.4C753.9 382.9 755.5 383.3 757.2 383.8C758.8 384.2 760.4 384.7 762 385.1C763.7 385.5 765.3 385.9 766.9 386.3C768.6 386.7 770.2 387.1 771.8 387.5C773.5 387.8 775.1 388.2 776.8 388.5C778.4 388.8 780.1 389.1 781.7 389.4C783.4 389.7 785 390 786.7 390.3C788.3 390.5 790 390.8 791.6 391C793.3 391.3 795 391.5 796.6 391.7C798.3 391.9 800 392.1 801.6 392.3C803.3 392.5 805 392.7 806.7 392.8C808.3 393 810 393.1 811.7 393.3C813.4 393.4 815 393.5 816.7 393.6C818.4 393.7 820.1 393.8 821.8 393.9C823.4 394 825.1 394 826.8 394.1C828.5 394.2 830.2 394.2 831.9 394.2C833.5 394.3 835.2 394.3 836.9 394.3C838.6 394.3 840.3 394.3 842 394.3C843.6 394.3 845.3 394.3 847 394.3C848.7 394.2 850.4 394.2 852.1 394.2C853.8 394.1 855.4 394.1 857.1 394C858.8 393.9 860.5 393.8 862.2 393.8C863.9 393.7 865.6 393.6 867.2 393.5C868.9 393.4 870.6 393.3 872.3 393.2C874 393.1 875.6 393 877.3 392.9C879 392.8 880.7 392.7 882.3 392.7C884 392.6 885.7 392.5 887.3 392.5C889 392.4 890.7 392.4 892.4 392.4C894 392.4 895.7 392.4 897.3 392.4C899 392.5 900.7 392.5 902.3 392.6C904 392.7 905.6 392.8 907.3 393C908.9 393.1 910.6 393.3 912.2 393.5C913.8 393.8 915.5 394.1 917.1 394.5C918.6 395 920.2 395.6 921.7 396.3C923.3 397 924.7 397.8 926.2 398.6C927.8 399.4 929.3 400.2 930.8 400.9C932.3 401.5 933.9 402.1 935.5 402.6C937.1 403.1 938.8 403.5 940.4 403.8C942 404.2 943.7 404.4 945.4 404.7C947 404.9 948.7 405.1 950.4 405.3C952.1 405.4 953.7 405.6 955.4 405.7C957.1 405.9 958.8 406 960.5 406.1C962.1 406.2 963.8 406.2 965.5 406.3C967.2 406.4 968.8 406.4 970.5 406.5C972.2 406.5 973.9 406.5 975.6 406.5C977.2 406.6 978.9 406.6 980.6 406.6C982.3 406.6 984 406.5 985.6 406.5C987.3 406.5 989 406.5 990.7 406.5C992.4 406.5 994.1 406.4 995.7 406.4C997.4 406.4 999.1 406.4 1000.8 406.3C1002.5 406.3 1004.1 406.3 1005.8 406.3C1007.5 406.3 1009.2 406.3 1010.9 406.3C1012.5 406.2 1014.2 406.2 1015.9 406.3C1017.6 406.3 1019.2 406.3 1020.9 406.3C1022.6 406.4 1024.3 406.4 1026 406.5C1027.6 406.5 1029.3 406.6 1031 406.7C1032.7 406.8 1035.2 406.9 1036 407" fill="none" stroke="#262626" stroke-width="2.4" stroke-linecap="round" stroke-linejoin="round"/>
<path d="M1036 411.2C1035.2 411.1 1032.7 411.1 1031 411C1029.3 411 1027.6 411 1025.9 410.9C1024.3 410.9 1022.6 410.9 1020.9 410.9C1019.2 410.9 1017.5 410.8 1015.9 410.8C1014.2 410.8 1012.5 410.8 1010.8 410.8C1009.2 410.8 1007.5 410.8 1005.8 410.8C1004.1 410.8 1002.4 410.8 1000.8 410.8C999.1 410.8 997.4 410.8 995.7 410.8C994.1 410.8 992.4 410.8 990.7 410.8C989 410.9 987.4 410.9 985.7 410.9C984 410.9 982.3 410.9 980.7 411C979 411 977.3 411 975.6 411.1C974 411.1 972.3 411.1 970.6 411.2C968.9 411.2 967.3 411.2 965.6 411.3C963.9 411.3 962.2 411.4 960.6 411.4C958.9 411.5 957.2 411.5 955.5 411.6C953.9 411.6 952.2 411.7 950.5 411.7C948.8 411.8 947.2 411.9 945.5 411.9C943.8 412 942.1 412.1 940.5 412.1C938.8 412.2 937.1 412.3 935.4 412.3C933.8 412.4 932.1 412.5 930.4 412.5C928.7 412.6 927.1 412.7 925.4 412.8C923.7 412.8 922.1 412.9 920.4 413C918.7 413.1 917 413.2 915.4 413.2C913.7 413.3 912 413.4 910.3 413.5C908.7 413.6 907 413.7 905.3 413.8C903.7 413.9 902 413.9 900.3 414C898.6 414.1 897 414.2 895.3 414.3C893.6 414.4 891.9 414.5 890.3 414.6C888.6 414.7 886.9 414.8 885.3 414.9C883.6 415 881.9 415.1 880.2 415.2C878.6 415.3 876.9 415.4 875.2 415.5C873.5 415.6 871.9 415.7 870.2 415.8C868.5 415.9 866.9 416 865.2 416.1C863.5 416.2 861.8 416.3 860.2 416.5C858.5 416.6 856.8 416.7 855.1 416.8C853.5 416.9 851.8 417 850.1 417.1C848.5 417.2 846.8 417.3 845.1 417.4C843.4 417.5 841.8 417.7 840.1 417.8C838.4 417.9 836.8 418 835.1 418.1C833.4 418.2 831.7 418.3 830.1 418.4C828.4 418.5 826.7 418.6 825 418.8C823.4 418.9 821.7 419 820 419.1C818.3 419.2 816.7 419.3 815 419.4C813.3 419.5 811.7 419.6 810 419.8C808.3 419.9 806.6 420 805 420.1C803.3 420.2 801.6 420.3 799.9 420.4C798.3 420.5 796.6 420.6 794.9 420.7C793.2 420.8 791.6 420.9 789.9 421.1C788.2 421.2 786.6 421.3 784.9 421.4C783.2 421.5 781.5 421.6 779.9 421.7C778.2 421.8 776.5 421.9 774.8 422C773.2 422.1 771.5 422.2 769.8 422.3C768.1 422.4 766.5 422.5 764.8 422.5C763.1 422.6 761.4 422.7 759.8 422.8C758.1 422.9 756.4 423 754.7 423.1C753.1 423.2 751.4 423.2 749.7 423.3C748 423.4 746.4 423.5 744.7 423.6C743 423.6 741.3 423.7 739.7 423.8C738 423.8 736.3 423.9 734.6 424C733 424 731.3 424.1 729.6 424.1C727.9 424.2 726.3 424.3 724.6 424.3C722.9 424.4 721.2 424.4 719.6 424.4C717.9 424.5 716.2 424.5 714.5 424.6C712.9 424.6 711.2 424.6 709.5 424.7C707.8 424.7 706.2 424.7 704.5 424.7C702.8 424.8 701.1 424.8 699.5 424.8C697.8 424.8 696.1 424.8 694.4 424.8C692.8 424.8 691.1 424.8 689.4 424.8C687.7 424.8 686.1 424.9 684.4 424.9C682.7 424.9 681 424.9 679.4 425C677.7 425 676 425 674.4 425.1C672.7 425.2 671 425.2 669.4 425.3C667.7 425.4 666 425.5 664.4 425.7C662.7 425.8 661 425.9 659.4 426.1C657.7 426.3 656 426.5 654.4 426.7C652.7 426.9 651.1 427.2 649.4 427.5C647.8 427.8 646.1 428.1 644.5 428.4C642.8 428.8 641.2 429.2 639.5 429.6C637.9 430 636.3 430.5 634.6 431C633 431.4 631.4 432 629.8 432.5C628.2 433.1 626.6 433.7 625 434.3C623.5 434.9 621.9 435.6 620.3 436.3C618.8 437 617.3 437.7 615.8 438.5C614.3 439.3 612.8 440.1 611.4 440.9C609.9 441.7 608.5 442.6 607.1 443.5C605.7 444.4 604.3 445.4 602.9 446.4C601.6 447.4 600.3 448.4 599 449.4C597.7 450.5 596.5 451.6 595.3 452.7C594.1 453.9 592.9 455 591.8 456.2C590.6 457.4 589.5 458.7 588.5 460C587.4 461.2 586.4 462.5 585.4 463.9C584.5 465.2 583.5 466.6 582.6 468C581.7 469.4 580.8 470.8 580 472.3C579.1 473.7 578.3 475.2 577.5 476.7C576.7 478.2 576 479.7 575.2 481.2C574.5 482.7 573.7 484.2 573 485.7C572.3 487.3 571.6 488.8 570.9 490.3C570.3 491.9 569.6 493.4 569 495C568.3 496.5 567.7 498 567 499.6C566.4 501.1 565.8 502.6 565.1 504.1C564.5 505.7 563.9 507.2 563.2 508.7C562.5 510.2 561.9 511.8 561.1 513.3C560.4 514.9 559.7 516.5 558.9 518.1C558.1 519.6 557.3 521.3 556.4 522.9C555.5 524.5 554.6 526.1 553.6 527.6C552.6 529 551.6 530.5 550.5 531.7C549.4 532.9 548.2 534 547 534.8C545.8 535.6 544.6 536.2 543.3 536.6C542 536.9 540.7 537 539.4 536.8C538 536.7 536.7 536.2 535.4 535.6C534.1 535 532.9 534.1 531.6 533C530.4 532 529.2 530.8 528 529.5C526.8 528.2 525.6 526.8 524.4 525.4C523.3 524 522.1 522.5 521 521.1C519.9 519.7 518.8 518.3 517.7 516.9C516.6 515.5 515.5 514.1 514.4 512.8C513.4 511.4 512.3 510.1 511.2 508.7C510.2 507.4 509.1 506 508.1 504.7C507 503.4 505.9 502.1 504.9 500.8C503.8 499.6 502.7 498.3 501.7 497C500.6 495.8 499.5 494.6 498.4 493.4C497.3 492.2 496.2 491 495 489.8C493.9 488.6 492.7 487.5 491.6 486.4C490.4 485.3 489.2 484.2 487.9 483.1C486.7 482 485.4 481 484.1 479.9C482.9 478.9 481.5 477.9 480.2 477C478.8 476 477.5 475.1 476.1 474.1C474.7 473.2 473.2 472.3 471.8 471.5C470.3 470.6 468.9 469.8 467.4 469C465.9 468.2 464.4 467.5 462.8 466.7C461.3 466 459.8 465.3 458.2 464.6C456.7 463.9 455.1 463.3 453.5 462.7C451.9 462.1 450.3 461.5 448.7 461C447.1 460.5 445.5 460 443.9 459.5C442.2 459 440.6 458.6 439 458.2C437.3 457.8 435.7 457.4 434.1 457.1C432.4 456.8 430.8 456.5 429.1 456.2C427.5 456 425.8 455.7 424.2 455.5C422.5 455.3 420.8 455.1 419.2 455C417.5 454.8 415.8 454.7 414.2 454.5C412.5 454.4 410.8 454.3 409.2 454.2C407.5 454.2 405.8 454.1 404.1 454C402.5 454 400.8 453.9 399.1 453.9C397.4 453.9 395.7 453.9 394.1 453.8C392.4 453.8 390.7 453.8 389 453.8C387.3 453.8 385.6 453.8 384 453.8C382.3 453.8 380.6 453.8 378.9 453.8C377.2 453.8 375.5 453.8 373.9 453.8C372.2 453.8 370.5 453.8 368.8 453.8C367.1 453.8 365.5 453.7 363.8 453.7C362.1 453.7 360.4 453.7 358.8 453.7C357.1 453.7 355.4 453.6 353.7 453.6C352 453.6 350.4 453.6 348.7 453.6C347 453.5 345.3 453.5 343.7 453.5C342 453.5 340.3 453.4 338.6 453.4C337 453.4 335.3 453.4 333.6 453.3C331.9 453.3 330.3 453.3 328.6 453.3C326.9 453.2 325.2 453.2 323.6 453.2C321.9 453.1 320.2 453.1 318.6 453.1C316.9 453.1 315.2 453 313.5 453C311.9 453 310.2 452.9 308.5 452.9C306.8 452.9 305.2 452.9 303.5 452.8C301.8 452.8 300.2 452.8 298.5 452.7C296.8 452.7 295.1 452.7 293.5 452.7C291.8 452.7 290.1 452.6 288.5 452.6C286.8 452.6 285.1 452.6 283.4 452.5C281.8 452.5 280.1 452.5 278.4 452.5C276.7 452.5 275.1 452.5 273.4 452.4C271.7 452.4 270 452.4 268.4 452.4C266.7 452.4 265 452.4 263.4 452.4C261.7 452.4 260 452.4 258.3 452.4C256.7 452.4 255 452.4 253.3 452.4C251.6 452.4 250 452.4 248.3 452.4C246.6 452.4 244.9 452.4 243.2 452.4C241.6 452.4 239.9 452.5 238.2 452.5C236.5 452.5 234.9 452.5 233.2 452.5C231.5 452.6 229.8 452.6 228.1 452.6C226.5 452.7 224.8 452.7 223.1 452.7C221.4 452.8 219.7 452.8 218 452.9C216.4 452.9 213.8 453 213 453" fill="none" stroke="#262626" stroke-width="2.4" stroke-linecap="round" stroke-linejoin="round"/>
<path d="M213 475.5C213.8 475.3 216.3 474.7 218 474.4C219.6 474 221.3 473.7 222.9 473.4C224.6 473.1 226.3 472.8 227.9 472.6C229.6 472.3 231.3 472.1 232.9 471.9C234.6 471.7 236.3 471.6 237.9 471.4C239.6 471.3 241.3 471.1 242.9 471C244.6 470.9 246.3 470.8 247.9 470.7C249.6 470.7 251.3 470.6 252.9 470.6C254.6 470.5 256.3 470.5 258 470.5C259.6 470.5 261.3 470.5 263 470.5C264.7 470.5 266.3 470.6 268 470.6C269.7 470.7 271.4 470.7 273 470.8C274.7 470.8 276.4 470.9 278.1 471C279.7 471 281.4 471.1 283.1 471.2C284.8 471.3 286.4 471.4 288.1 471.5C289.8 471.6 291.5 471.7 293.1 471.8C294.8 471.9 296.5 472 298.2 472.1C299.9 472.2 301.5 472.3 303.2 472.4C304.9 472.5 306.6 472.6 308.2 472.7C309.9 472.8 311.6 472.9 313.3 473C315 473.1 316.6 473.2 318.3 473.3C320 473.4 321.7 473.5 323.3 473.6C325 473.7 326.7 473.8 328.4 473.9C330 474 331.7 474.2 333.4 474.3C335.1 474.4 336.7 474.5 338.4 474.7C340.1 474.8 341.7 475 343.4 475.1C345.1 475.3 346.7 475.4 348.4 475.6C350.1 475.8 351.7 475.9 353.4 476.1C355.1 476.3 356.7 476.5 358.4 476.7C360.1 476.9 361.7 477.1 363.4 477.3C365.1 477.6 366.7 477.8 368.4 478.1C370 478.3 371.7 478.6 373.3 478.9C375 479.1 376.7 479.4 378.3 479.7C380 480 381.6 480.4 383.3 480.7C384.9 481 386.5 481.4 388.2 481.7C389.8 482.1 391.5 482.5 393.1 482.9C394.8 483.3 396.4 483.7 398 484.1C399.7 484.6 401.3 485 402.9 485.5C404.6 486 406.2 486.5 407.8 487C409.4 487.5 411 488 412.6 488.6C414.2 489.2 415.8 489.8 417.4 490.4C418.9 491 420.5 491.6 422 492.3C423.6 492.9 425.1 493.6 426.6 494.3C428.1 495 429.6 495.8 431.1 496.5C432.6 497.3 434.1 498.1 435.5 498.9C437 499.7 438.4 500.6 439.8 501.5C441.2 502.4 442.5 503.3 443.9 504.2C445.2 505.2 446.6 506.1 447.8 507.2C449.1 508.2 450.4 509.2 451.6 510.3C452.9 511.4 454.1 512.5 455.3 513.6C456.5 514.8 457.6 516 458.8 517.2C459.9 518.4 461 519.6 462.1 520.9C463.2 522.1 464.2 523.4 465.3 524.7C466.3 526 467.3 527.4 468.3 528.7C469.3 530.1 470.3 531.4 471.3 532.8C472.3 534.2 473.2 535.6 474.2 537.1C475.1 538.5 476 539.9 476.9 541.4C477.8 542.8 478.7 544.3 479.6 545.8C480.5 547.3 481.3 548.8 482.2 550.3C483.1 551.8 483.9 553.3 484.8 554.8C485.6 556.3 486.4 557.8 487.3 559.3C488.1 560.9 488.9 562.4 489.7 563.9C490.6 565.5 491.4 567 492.2 568.5C493 570 493.8 571.5 494.6 573.1C495.5 574.6 496.3 576.1 497.2 577.5C498 579 498.9 580.5 499.8 581.9C500.7 583.3 501.6 584.7 502.5 586.1C503.4 587.5 504.4 588.8 505.4 590.1C506.4 591.4 507.4 592.7 508.5 593.9C509.6 595.1 510.7 596.3 511.9 597.4C513 598.5 514.2 599.6 515.5 600.6C516.8 601.6 518.1 602.6 519.4 603.5C520.8 604.4 522.3 605.4 523.7 605.9C525.2 606.5 526.8 607.1 528.1 606.9C529.5 606.8 530.8 606 532 605.1C533.1 604.2 534 602.8 534.9 601.3C535.7 599.9 536.4 598.1 537.1 596.5C537.9 594.8 538.5 593 539.2 591.3C539.9 589.6 540.6 588 541.2 586.3C541.9 584.7 542.6 583.1 543.3 581.5C544 580 544.7 578.4 545.3 576.9C546 575.3 546.7 573.8 547.4 572.3C548.1 570.8 548.7 569.3 549.4 567.8C550.1 566.3 550.8 564.8 551.4 563.3C552.1 561.8 552.8 560.3 553.4 558.8C554.1 557.3 554.8 555.8 555.4 554.3C556.1 552.8 556.7 551.3 557.4 549.7C558 548.2 558.7 546.7 559.4 545.1C560 543.6 560.7 542.1 561.3 540.6C562 539 562.6 537.5 563.3 535.9C564 534.4 564.6 532.9 565.3 531.3C566 529.8 566.7 528.3 567.4 526.8C568.1 525.2 568.8 523.7 569.5 522.2C570.2 520.7 570.9 519.1 571.6 517.6C572.3 516.1 573.1 514.6 573.8 513.1C574.6 511.6 575.3 510.1 576.1 508.6C576.9 507.1 577.7 505.6 578.5 504.2C579.3 502.7 580.1 501.2 580.9 499.8C581.8 498.3 582.6 496.9 583.5 495.4C584.4 494 585.3 492.6 586.2 491.2C587.1 489.8 588 488.4 589 487C589.9 485.6 590.9 484.2 591.9 482.9C592.9 481.5 593.9 480.2 595 478.9C596 477.6 597.1 476.3 598.2 475C599.3 473.7 600.4 472.4 601.5 471.2C602.7 469.9 603.8 468.7 605 467.5C606.2 466.3 607.4 465.1 608.6 463.9C609.9 462.7 611.1 461.6 612.4 460.5C613.6 459.3 614.9 458.2 616.2 457.1C617.5 456.1 618.9 455 620.2 454C621.5 453 622.9 452 624.3 451C625.6 450 627 449.1 628.4 448.1C629.8 447.2 631.2 446.3 632.7 445.5C634.1 444.6 635.6 443.8 637 443C638.5 442.2 639.9 441.4 641.4 440.7C642.9 439.9 644.4 439.2 645.9 438.6C647.4 437.9 648.9 437.3 650.5 436.6C652 436 653.5 435.4 655.1 434.9C656.6 434.3 658.2 433.8 659.7 433.3C661.3 432.8 662.9 432.3 664.4 431.9C666 431.4 667.6 431 669.2 430.6C670.8 430.2 672.4 429.8 674 429.4C675.7 429.1 677.3 428.7 678.9 428.4C680.5 428.1 682.2 427.8 683.8 427.5C685.4 427.2 687.1 426.9 688.7 426.7C690.4 426.4 692.1 426.2 693.7 426C695.4 425.8 697 425.6 698.7 425.4C700.4 425.2 702.1 425 703.7 424.8C705.4 424.7 707.1 424.5 708.8 424.4C710.5 424.2 712.1 424.1 713.8 423.9C715.5 423.8 717.2 423.7 718.9 423.6C720.6 423.5 722.3 423.4 724 423.3C725.7 423.2 727.4 423.1 729.1 423C730.8 422.9 732.5 422.8 734.2 422.7C735.9 422.6 737.6 422.5 739.3 422.4C741 422.3 742.7 422.3 744.3 422.2C746 422.1 747.7 422 749.4 421.9C751.1 421.8 752.8 421.7 754.5 421.6C756.2 421.6 757.9 421.5 759.6 421.4C761.3 421.3 762.9 421.2 764.6 421.1C766.3 421 768 421 769.7 420.9C771.4 420.8 773.1 420.7 774.7 420.6C776.4 420.5 778.1 420.4 779.8 420.3C781.5 420.3 783.2 420.2 784.8 420.1C786.5 420 788.2 419.9 789.9 419.8C791.6 419.8 793.2 419.7 794.9 419.6C796.6 419.5 798.3 419.4 799.9 419.3C801.6 419.2 803.3 419.2 805 419.1C806.6 419 808.3 418.9 810 418.8C811.7 418.8 813.3 418.7 815 418.6C816.7 418.5 818.4 418.4 820 418.3C821.7 418.3 823.4 418.2 825.1 418.1C826.7 418 828.4 417.9 830.1 417.9C831.7 417.8 833.4 417.7 835.1 417.6C836.7 417.6 838.4 417.5 840.1 417.4C841.8 417.3 843.4 417.3 845.1 417.2C846.8 417.1 848.4 417 850.1 417C851.8 416.9 853.4 416.8 855.1 416.7C856.8 416.7 858.4 416.6 860.1 416.5C861.8 416.5 863.4 416.4 865.1 416.3C866.8 416.2 868.4 416.2 870.1 416.1C871.8 416 873.4 416 875.1 415.9C876.8 415.8 878.4 415.8 880.1 415.7C881.8 415.7 883.4 415.6 885.1 415.5C886.8 415.5 888.4 415.4 890.1 415.3C891.8 415.3 893.4 415.2 895.1 415.2C896.8 415.1 898.4 415.1 900.1 415C901.8 414.9 903.4 414.9 905.1 414.8C906.8 414.8 908.4 414.7 910.1 414.7C911.8 414.6 913.4 414.6 915.1 414.5C916.8 414.5 918.5 414.4 920.1 414.4C921.8 414.3 923.5 414.3 925.1 414.2C926.8 414.2 928.5 414.1 930.1 414.1C931.8 414.1 933.5 414 935.1 414C936.8 413.9 938.5 413.9 940.2 413.9C941.8 413.8 943.5 413.8 945.2 413.8C946.8 413.7 948.5 413.7 950.2 413.7C951.9 413.6 953.5 413.6 955.2 413.6C956.9 413.5 958.6 413.5 960.2 413.5C961.9 413.5 963.6 413.4 965.3 413.4C966.9 413.4 968.6 413.4 970.3 413.3C972 413.3 973.6 413.3 975.3 413.3C977 413.3 978.7 413.3 980.4 413.2C982 413.2 983.7 413.2 985.4 413.2C987.1 413.2 988.8 413.2 990.4 413.2C992.1 413.2 993.8 413.2 995.5 413.2C997.2 413.2 998.9 413.2 1000.5 413.2C1002.2 413.2 1003.9 413.2 1005.6 413.2C1007.3 413.2 1009 413.2 1010.7 413.2C1012.3 413.2 1014 413.2 1015.7 413.2C1017.4 413.2 1019.1 413.2 1020.8 413.2C1022.5 413.3 1024.2 413.3 1025.9 413.3C1027.6 413.3 1029.3 413.3 1031 413.3C1032.7 413.4 1035.2 413.4 1036.1 413.4" fill="none" stroke="#7d7d7d" stroke-width="2.1" stroke-linecap="round" stroke-linejoin="round"/>
<path d="M440 401.5C440.8 401.5 443.4 401.5 445.1 401.5C446.8 401.5 448.5 401.5 450.2 401.6C451.9 401.6 453.6 401.6 455.3 401.6C457 401.6 458.7 401.6 460.4 401.6C462 401.7 463.7 401.7 465.4 401.7C467.1 401.7 468.8 401.7 470.4 401.7C472.1 401.6 473.8 401.6 475.5 401.6C477.2 401.6 478.8 401.6 480.5 401.5C482.2 401.5 483.8 401.4 485.5 401.4C487.2 401.3 488.9 401.3 490.5 401.2C492.2 401.1 493.9 401 495.6 400.9C497.2 400.8 498.9 400.7 500.6 400.6C502.2 400.5 503.9 400.4 505.6 400.2C507.3 400.1 508.9 399.9 510.6 399.7C512.3 399.5 514 399.3 515.7 399.1C517.3 398.9 519 398.7 520.7 398.4C522.4 398.2 524.1 397.9 525.8 397.6C527.5 397.3 529.1 397 530.8 396.7C532.5 396.3 534.2 396 535.8 395.6C537.5 395.2 539.2 394.8 540.8 394.3C542.4 393.8 544.1 393.3 545.7 392.8C547.3 392.3 548.9 391.7 550.4 391.1C552 390.4 553.5 389.8 555 389.1C556.6 388.4 558.1 387.6 559.5 386.8C561 386 562.4 385.2 563.9 384.3C565.3 383.4 566.7 382.5 568 381.5C569.4 380.5 570.7 379.5 572 378.5C573.3 377.4 574.6 376.3 575.9 375.2C577.1 374.1 578.3 372.9 579.5 371.8C580.7 370.6 581.9 369.4 583 368.1C584.2 366.9 585.3 365.6 586.3 364.3C587.4 363 588.5 361.7 589.5 360.3C590.5 358.9 591.5 357.6 592.4 356.2C593.4 354.8 594.3 353.3 595.2 351.9C596.1 350.4 597 349 597.8 347.5C598.7 346 599.5 344.5 600.2 343C601 341.5 601.7 340 602.4 338.4C603.2 336.9 603.8 335.4 604.5 333.8C605.1 332.2 605.8 330.7 606.4 329.1C607 327.6 607.7 326 608.3 324.4C609 322.9 609.6 321.3 610.3 319.8C610.9 318.3 611.6 316.7 612.4 315.2C613.1 313.7 613.8 312.2 614.6 310.7C615.3 309.2 616.1 307.7 616.8 306.2C617.6 304.7 618.4 303.2 619.1 301.7C619.8 300.2 620.5 298.6 621.2 297.1C621.9 295.5 622.5 294 623.2 292.4C623.8 290.8 624.4 289.3 625 287.7C625.6 286.1 626.2 284.5 626.7 282.9C627.3 281.3 627.9 279.7 628.4 278.1C628.9 276.4 629.5 274.8 630 273.2C630.5 271.6 631 270 631.6 268.4C632.1 266.8 632.6 265.2 633.1 263.6C633.6 262 634.1 260.4 634.6 258.8C635.2 257.2 635.7 255.6 636.2 254C636.8 252.4 637.3 250.8 637.9 249.3C638.4 247.7 639 246.1 639.6 244.6C640.1 243 640.7 241.5 641.4 239.9C642 238.4 642.6 236.8 643.3 235.3C643.9 233.7 644.6 232.2 645.3 230.7C646 229.2 646.8 227.6 647.5 226.1C648.3 224.6 649.1 223.1 649.9 221.6C650.7 220.1 651.6 218.6 652.5 217.1C653.4 215.6 654.3 214.2 655.3 212.7C656.3 211.2 657.3 209.7 658.4 208.3C659.4 206.9 660.5 205.4 661.7 204.2C662.9 202.9 664.1 201.7 665.4 200.9C666.6 200 668 199.3 669.4 199C670.8 198.8 672.4 198.9 673.8 199.3C675.3 199.7 676.9 200.5 678.2 201.5C679.5 202.5 680.7 203.7 681.7 205.1C682.8 206.4 683.7 207.9 684.6 209.5C685.5 211 686.2 212.7 687 214.3C687.8 215.8 688.5 217.5 689.3 219C690 220.6 690.7 222.2 691.4 223.8C692.1 225.4 692.8 227 693.4 228.5C694.1 230.1 694.7 231.7 695.4 233.3C696 234.8 696.6 236.4 697.2 237.9C697.9 239.5 698.5 241.1 699.1 242.6C699.7 244.2 700.2 245.7 700.8 247.3C701.4 248.8 702 250.4 702.6 251.9C703.2 253.5 703.7 255 704.3 256.6C704.9 258.1 705.5 259.7 706.1 261.2C706.7 262.8 707.3 264.3 707.9 265.9C708.5 267.4 709.1 269 709.7 270.5C710.3 272.1 711 273.6 711.6 275.2C712.2 276.7 712.9 278.3 713.6 279.9C714.2 281.4 714.9 283 715.6 284.5C716.3 286.1 717.1 287.6 717.8 289.1C718.5 290.7 719.3 292.2 720.1 293.7C720.9 295.2 721.7 296.7 722.5 298.2C723.4 299.7 724.2 301.1 725.1 302.6C726 304.1 726.9 305.5 727.9 306.9C728.8 308.3 729.8 309.7 730.8 311.1C731.8 312.5 732.8 313.8 733.9 315.2C734.9 316.5 736 317.8 737.1 319.1C738.2 320.4 739.3 321.6 740.5 322.9C741.6 324.1 742.8 325.3 744 326.5C745.2 327.7 746.4 328.8 747.7 330C748.9 331.1 750.2 332.2 751.5 333.3C752.8 334.3 754.1 335.4 755.4 336.4C756.8 337.4 758.1 338.3 759.5 339.3C760.9 340.2 762.3 341.1 763.8 342C765.2 342.9 766.6 343.7 768.1 344.5C769.6 345.3 771.1 346.1 772.6 346.9C774.1 347.6 775.6 348.4 777.1 349.1C778.7 349.8 780.2 350.4 781.8 351.1C783.3 351.8 784.9 352.4 786.5 353C788.1 353.7 789.6 354.3 791.2 354.9C792.8 355.4 794.4 356 796 356.6C797.7 357.1 799.3 357.7 800.9 358.2C802.5 358.7 804.1 359.2 805.7 359.8C807.4 360.3 809 360.8 810.6 361.3C812.2 361.8 813.8 362.3 815.5 362.7C817.1 363.2 818.7 363.7 820.3 364.1C821.9 364.6 823.5 365 825.2 365.5C826.8 365.9 828.4 366.3 830 366.7C831.7 367.1 833.3 367.5 834.9 367.9C836.5 368.3 838.2 368.7 839.8 369C841.4 369.4 843.1 369.7 844.7 370C846.4 370.3 848 370.6 849.7 370.9C851.3 371.2 853 371.4 854.6 371.7C856.3 371.9 858 372.1 859.6 372.3C861.3 372.5 863 372.7 864.7 372.9C866.4 373 868 373.2 869.7 373.3C871.4 373.4 873.1 373.5 874.9 373.5C876.6 373.6 878.3 373.6 880 373.6C881.8 373.6 883.5 373.6 885.2 373.6C887 373.6 888.7 373.5 890.4 373.5C892.1 373.5 893.9 373.6 895.6 373.6C897.3 373.7 899 373.8 900.6 374C902.3 374.2 903.9 374.5 905.5 374.9C907.1 375.2 908.7 375.7 910.2 376.3C911.7 376.8 913.2 377.5 914.6 378.4C916 379.2 917.4 380.2 918.7 381.3C920 382.3 921.1 383.6 922.4 384.7C923.7 385.8 924.9 387 926.3 388C927.6 389 929 389.9 930.5 390.8C931.9 391.7 933.4 392.4 934.9 393.1C936.4 393.9 938 394.5 939.5 395.2C941.1 395.8 942.7 396.4 944.2 397C945.8 397.5 947.4 398.1 949 398.6C950.6 399.1 952.2 399.6 953.8 400.1C955.4 400.5 957.1 401 958.7 401.4C960.3 401.8 962 402.2 963.6 402.5C965.3 402.9 966.9 403.3 968.6 403.6C970.2 403.9 971.9 404.2 973.5 404.5C975.2 404.8 976.9 405.1 978.6 405.3C980.2 405.6 981.9 405.8 983.6 406C985.3 406.3 987 406.5 988.6 406.7C990.3 406.9 992 407.1 993.7 407.3C995.4 407.5 997.1 407.6 998.8 407.8C1000.5 408 1002.2 408.1 1003.8 408.3C1005.5 408.4 1007.2 408.6 1008.9 408.7C1010.6 408.9 1012.3 409 1014 409.2C1015.6 409.3 1017.3 409.5 1019 409.6C1020.7 409.8 1022.3 409.9 1024 410.1C1025.7 410.2 1027.3 410.4 1029 410.6C1030.7 410.7 1033.1 411 1034 411.1" fill="none" stroke="#7d7d7d" stroke-width="2.1" stroke-linecap="round" stroke-linejoin="round"/>
<path d="M213.3 530.8C213.4 530 213.7 527.6 213.9 526C214.1 524.3 214.3 522.7 214.5 521C214.7 519.3 214.9 517.7 215.1 516C215.2 514.3 215.4 512.6 215.6 510.9C215.7 509.2 215.9 507.4 216.1 505.7C216.3 504 216.5 502.3 216.7 500.5C216.9 498.8 217.1 497.1 217.3 495.3C217.6 493.6 217.8 491.9 218.1 490.2C218.4 488.4 218.7 486.7 219 485C219.4 483.3 219.7 481.6 220.1 479.9C220.5 478.2 221 476.5 221.4 474.8C221.9 473.2 222.4 471.5 223 469.9C223.6 468.2 224.2 466.6 224.8 465C225.4 463.4 226.1 461.8 226.9 460.3C227.6 458.7 228.4 457.2 229.2 455.7C230 454.2 230.8 452.8 231.7 451.3C232.6 449.9 233.6 448.5 234.6 447.2C235.6 445.8 236.6 444.5 237.7 443.2C238.7 441.9 239.9 440.7 241 439.5C242.2 438.4 243.4 437.2 244.6 436.1C245.9 435 247.2 434 248.5 433C249.9 432.1 251.3 431.1 252.7 430.3C254.1 429.4 255.6 428.6 257.1 427.8C258.6 427.1 260.1 426.3 261.7 425.7C263.3 425 264.9 424.3 266.4 423.7C268 423.1 269.7 422.6 271.3 422C272.9 421.5 274.6 420.9 276.2 420.5C277.8 420 279.5 419.5 281.2 419.1C282.8 418.6 284.5 418.2 286.2 417.8C287.9 417.4 289.6 417 291.3 416.7C293 416.3 294.7 415.9 296.4 415.6C298.1 415.3 299.8 415 301.5 414.7C303.2 414.3 304.9 414.1 306.6 413.8C308.3 413.5 310.1 413.2 311.8 412.9C313.5 412.6 315.2 412.4 316.9 412.1C318.6 411.8 320.3 411.6 322 411.3C323.8 411.1 325.5 410.8 327.2 410.5C328.9 410.3 330.6 410 332.3 409.8C334 409.5 335.7 409.2 337.4 409C339.1 408.7 340.8 408.5 342.5 408.2C344.2 408 345.9 407.7 347.5 407.5C349.2 407.3 350.9 407 352.6 406.8C354.3 406.6 356 406.3 357.7 406.1C359.4 405.9 361.1 405.6 362.7 405.4C364.4 405.2 366.1 405 367.8 404.8C369.5 404.6 371.2 404.4 372.9 404.2C374.5 404 376.2 403.8 377.9 403.6C379.6 403.4 381.3 403.2 383 403C384.7 402.9 386.3 402.7 388 402.5C389.7 402.4 391.4 402.2 393.1 402.1C394.8 401.9 396.5 401.8 398.2 401.6C399.8 401.5 401.5 401.4 403.2 401.2C404.9 401.1 406.6 401 408.3 400.9C410 400.8 411.7 400.7 413.4 400.6C415.1 400.5 416.8 400.4 418.5 400.4C420.2 400.3 421.9 400.2 423.6 400.2C425.3 400.1 427 400.1 428.7 400C430.4 400 432.1 400 433.8 400C435.5 400 437.2 399.9 438.9 400C440.7 400 442.4 400 444.1 400C445.8 400 447.5 400.1 449.3 400.1C451 400.2 452.7 400.2 454.5 400.3C456.2 400.4 457.9 400.4 459.7 400.5C461.4 400.6 463.1 400.7 464.9 400.9C466.6 401 469.3 401.2 470.1 401.3" fill="none" stroke="#262626" stroke-width="2.7" stroke-linecap="round" stroke-linejoin="round"/>
<path d="M400 401.5C400.9 401.4 403.3 401.2 405 401.1C406.6 401 408.3 400.9 410 400.9C411.6 400.8 413.3 400.7 415 400.7C416.6 400.6 418.3 400.6 420 400.5C421.6 400.5 423.3 400.5 425 400.5C426.7 400.5 428.4 400.4 430 400.5C431.7 400.5 433.4 400.5 435.1 400.5C436.8 400.5 438.5 400.5 440.2 400.5C441.8 400.6 443.5 400.6 445.2 400.6C446.9 400.6 448.6 400.7 450.3 400.7C452 400.7 453.7 400.8 455.4 400.8C457.1 400.8 458.8 400.8 460.5 400.9C462.1 400.9 463.8 400.9 465.5 400.9C467.2 400.9 468.9 400.9 470.6 400.9C472.3 400.9 474 400.9 475.7 400.9C477.4 400.9 479.1 400.9 480.7 400.8C482.4 400.8 484.1 400.7 485.8 400.7C487.5 400.6 489.2 400.6 490.8 400.5C492.5 400.4 494.2 400.3 495.9 400.2C497.5 400.1 499.2 399.9 500.9 399.8C502.6 399.7 504.2 399.5 505.9 399.3C507.5 399.1 509.2 398.9 510.9 398.7C512.5 398.5 514.2 398.2 515.8 398C517.5 397.7 519.1 397.4 520.7 397.1C522.4 396.8 524 396.5 525.6 396.1C527.3 395.8 528.9 395.4 530.5 395C532.1 394.5 533.8 394.1 535.4 393.6C537 393.2 538.6 392.7 540.2 392.1C541.8 391.6 543.4 391 545 390.4C546.5 389.8 548.1 389.2 549.7 388.6C551.2 387.9 552.8 387.2 554.3 386.5C555.8 385.8 557.3 385 558.8 384.2C560.3 383.4 561.8 382.6 563.2 381.7C564.7 380.8 566.1 379.9 567.5 379C568.9 378.1 570.2 377.1 571.5 376.1C572.9 375.1 574.2 374 575.4 372.9C576.7 371.8 577.9 370.7 579.1 369.5C580.3 368.4 581.4 367.1 582.5 365.9C583.6 364.7 584.7 363.4 585.7 362C586.7 360.7 587.7 359.4 588.7 358C589.7 356.6 590.6 355.2 591.5 353.8C592.4 352.4 593.3 350.9 594.2 349.5C595 348 595.8 346.5 596.7 345C597.5 343.5 598.3 342 599 340.5C599.8 339 600.6 337.5 601.3 335.9C602.1 334.4 602.8 332.9 603.5 331.4C604.3 329.8 605 328.3 605.7 326.8C606.4 325.2 607.1 323.7 607.8 322.2C608.5 320.6 609.1 319.1 609.8 317.5C610.5 316 611.1 314.4 611.8 312.9C612.4 311.4 613.1 309.8 613.7 308.3C614.3 306.7 614.9 305.2 615.6 303.6C616.2 302.1 616.8 300.5 617.4 298.9C618 297.4 618.6 295.8 619.2 294.3C619.8 292.7 620.4 291.2 621 289.6C621.6 288.1 622.2 286.5 622.8 284.9C623.4 283.4 624 281.8 624.6 280.3C625.2 278.7 625.7 277.1 626.3 275.6C626.9 274 627.5 272.5 628.1 270.9C628.7 269.3 629.3 267.8 629.8 266.2C630.4 264.7 631 263.1 631.6 261.5C632.2 260 632.8 258.4 633.4 256.9C634 255.3 634.6 253.7 635.2 252.2C635.8 250.6 636.4 249.1 637.1 247.5C637.7 246 638.3 244.4 638.9 242.9C639.6 241.3 640.2 239.8 640.9 238.2C641.5 236.7 642.2 235.1 642.8 233.6C643.5 232 644.1 230.5 644.8 228.9C645.5 227.4 646.2 225.9 646.9 224.3C647.6 222.8 648.3 221.3 649 219.7C649.7 218.2 650.5 216.7 651.2 215.1C652 213.6 652.7 212.1 653.5 210.5C654.3 209 655.1 207.5 655.9 206C656.7 204.5 657.5 203 658.3 201.4C659.1 199.9 660 198.4 660.8 196.9C661.7 195.5 662.6 194 663.5 192.6C664.5 191.1 665.4 189.7 666.5 188.4C667.5 187 668.5 185.7 669.6 184.4C670.7 183.2 671.9 181.9 673.1 180.8C674.3 179.7 675.6 178.6 676.9 177.6C678.3 176.6 679.7 175.7 681.2 174.9C682.7 174.1 684.3 173.4 685.9 172.8C687.4 172.3 689.1 171.9 690.6 171.7C692.2 171.5 693.8 171.6 695.2 171.9C696.7 172.2 698.2 172.7 699.5 173.4C700.9 174.1 702.2 175 703.5 176C704.8 177 706 178.2 707.2 179.5C708.4 180.7 709.5 182.1 710.6 183.5C711.7 184.9 712.8 186.4 713.8 187.9C714.8 189.4 715.8 190.9 716.7 192.4C717.6 193.9 718.5 195.4 719.3 196.9C720.2 198.4 721 199.9 721.7 201.4C722.5 202.9 723.3 204.4 724 205.9C724.7 207.4 725.4 208.9 726.1 210.4C726.8 211.9 727.4 213.4 728.1 214.9C728.7 216.4 729.4 217.9 730 219.4C730.6 220.9 731.2 222.4 731.8 224C732.4 225.5 733 227 733.6 228.5C734.2 230.1 734.8 231.6 735.5 233.2C736.1 234.7 736.7 236.3 737.3 237.8C737.9 239.4 738.5 240.9 739.2 242.5C739.8 244.1 740.4 245.7 741.1 247.2C741.7 248.8 742.3 250.4 743 251.9C743.7 253.5 744.3 255.1 745 256.7C745.6 258.2 746.3 259.8 747 261.4C747.7 262.9 748.4 264.5 749.1 266.1C749.8 267.6 750.5 269.2 751.2 270.7C751.9 272.3 752.7 273.8 753.4 275.4C754.2 276.9 754.9 278.4 755.7 279.9C756.5 281.5 757.3 283 758.1 284.5C758.9 286 759.7 287.5 760.5 288.9C761.3 290.4 762.2 291.9 763 293.3C763.9 294.8 764.8 296.2 765.7 297.6C766.6 299.1 767.5 300.5 768.4 301.9C769.3 303.2 770.3 304.6 771.3 306C772.2 307.3 773.2 308.7 774.2 310C775.2 311.3 776.2 312.6 777.3 313.9C778.3 315.1 779.4 316.4 780.5 317.6C781.6 318.9 782.7 320.1 783.8 321.3C784.9 322.4 786.1 323.6 787.3 324.7C788.5 325.9 789.7 327 790.9 328C792.1 329.1 793.4 330.2 794.6 331.2C795.9 332.2 797.2 333.3 798.5 334.2C799.8 335.2 801.2 336.2 802.5 337.1C803.9 338 805.2 339 806.6 339.8C808 340.7 809.4 341.6 810.9 342.4C812.3 343.3 813.7 344.1 815.2 344.9C816.6 345.7 818.1 346.4 819.6 347.2C821.1 347.9 822.6 348.7 824.1 349.4C825.7 350.1 827.2 350.7 828.7 351.4C830.3 352.1 831.9 352.7 833.4 353.3C835 353.9 836.6 354.5 838.2 355.1C839.8 355.7 841.4 356.3 843 356.8C844.6 357.3 846.3 357.8 847.9 358.3C849.5 358.8 851.2 359.3 852.8 359.8C854.5 360.2 856.1 360.7 857.8 361.1C859.5 361.5 861.2 361.9 862.8 362.3C864.5 362.7 866.2 363 867.9 363.4C869.6 363.7 871.3 364.1 873 364.4C874.7 364.7 876.4 365 878.1 365.3C879.8 365.5 881.5 365.8 883.2 366C884.9 366.3 886.7 366.5 888.4 366.7C890.1 366.9 891.8 367.1 893.5 367.3C895.2 367.5 896.9 367.7 898.7 367.8C900.4 368 902.1 368.1 903.8 368.2C905.5 368.3 907.2 368.4 908.9 368.5C910.6 368.6 912.3 368.7 914 368.7C915.7 368.8 917.4 368.9 919.1 368.9C920.8 368.9 922.4 368.9 924.1 369C925.8 369 927.4 369 929.1 368.9C930.8 368.9 932.4 368.9 934.1 368.8C935.7 368.8 937.4 368.8 939 368.7C940.7 368.6 942.3 368.5 944 368.5C945.6 368.4 947.2 368.3 948.9 368.2C950.5 368 952.1 367.9 953.8 367.8C955.4 367.7 957 367.5 958.6 367.4C960.3 367.2 961.9 367.1 963.5 366.9C965.1 366.7 966.8 366.5 968.4 366.3C970 366.2 971.6 366 973.3 365.8C974.9 365.5 976.5 365.3 978.1 365.1C979.8 364.9 981.4 364.7 983 364.4C984.7 364.2 986.3 363.9 987.9 363.7C989.6 363.4 991.2 363.2 992.8 362.9C994.5 362.6 996.1 362.4 997.8 362.1C999.4 361.8 1001.1 361.5 1002.7 361.2C1004.4 361 1006 360.7 1007.7 360.4C1009.4 360.1 1011 359.8 1012.7 359.4C1014.4 359.1 1016.1 358.8 1017.7 358.5C1019.4 358.2 1021.1 357.9 1022.8 357.5C1024.5 357.2 1026.2 356.9 1027.9 356.5C1029.6 356.2 1031.4 355.9 1033.1 355.5C1034.8 355.2 1037.4 354.7 1038.3 354.5" fill="none" stroke="#262626" stroke-width="3.6" stroke-linecap="round" stroke-linejoin="round"/>
<path d="M1035.6 355.2C1034.9 355.6 1032.9 356.9 1031.6 357.8C1030.3 358.7 1028.9 359.6 1027.6 360.6C1026.3 361.6 1025 362.6 1023.7 363.7C1022.4 364.7 1021.1 365.7 1019.8 366.8C1018.5 367.9 1017.2 369 1015.9 370.1C1014.6 371.2 1013.3 372.3 1012 373.4C1010.7 374.5 1009.4 375.6 1008.1 376.7C1006.8 377.7 1005.5 378.8 1004.2 379.9C1002.8 381 1001.5 382 1000.2 383.1C998.8 384.1 997.5 385.1 996.1 386.1C994.7 387.1 993.3 388 991.9 388.9C990.5 389.9 989.1 390.7 987.7 391.6C986.2 392.4 984.8 393.2 983.3 393.9C981.8 394.7 980.3 395.4 978.8 396.1C977.3 396.8 975.8 397.4 974.2 398C972.7 398.6 971.1 399.2 969.5 399.7C968 400.2 966.4 400.8 964.8 401.2C963.2 401.7 961.6 402.2 960 402.6C958.4 403 956.7 403.4 955.1 403.8C953.5 404.2 951.8 404.5 950.2 404.9C948.5 405.2 946.9 405.5 945.2 405.8C943.5 406.1 941.9 406.4 940.2 406.7C938.5 407 936.8 407.2 935.2 407.5C933.5 407.7 931.8 408 930.1 408.2C928.4 408.5 926.7 408.7 925 408.9C923.4 409.1 921.7 409.3 920 409.6C918.3 409.8 916.6 410 914.9 410.2C913.2 410.4 911.6 410.6 909.9 410.8C908.2 411.1 906.5 411.3 904.8 411.5C903.1 411.7 901.5 411.9 899.8 412.1C898.1 412.3 896.4 412.5 894.8 412.7C893.1 412.9 891.4 413.1 889.7 413.3C888.1 413.5 886.4 413.7 884.7 413.9C883 414.1 881.4 414.3 879.7 414.5C878 414.6 876.4 414.8 874.7 415C873 415.2 871.3 415.4 869.7 415.5C868 415.7 866.3 415.9 864.7 416.1C863 416.2 861.3 416.4 859.7 416.6C858 416.7 856.3 416.9 854.7 417.1C853 417.2 851.3 417.4 849.7 417.5C848 417.7 846.3 417.8 844.6 418C843 418.1 841.3 418.2 839.6 418.4C838 418.5 836.3 418.6 834.6 418.8C833 418.9 831.3 419 829.6 419.1C828 419.3 826.3 419.4 824.6 419.5C822.9 419.6 821.3 419.7 819.6 419.8C817.9 419.9 816.3 420 814.6 420.1C812.9 420.2 811.2 420.3 809.6 420.4C807.9 420.5 806.2 420.5 804.5 420.6C802.9 420.7 801.2 420.8 799.5 420.8C797.8 420.9 796.2 420.9 794.5 421C792.8 421.1 791.1 421.1 789.4 421.2C787.8 421.2 786.1 421.2 784.4 421.3C782.7 421.3 781 421.4 779.3 421.4C777.7 421.5 776 421.5 774.3 421.5C772.6 421.6 770.9 421.6 769.2 421.7C767.6 421.7 765.9 421.8 764.2 421.8C762.5 421.9 760.8 421.9 759.1 422C757.5 422 755.8 422.1 754.1 422.2C752.4 422.2 750.7 422.3 749.1 422.4C747.4 422.5 745.7 422.6 744 422.7C742.3 422.7 740.7 422.9 739 423C737.3 423.1 735.6 423.2 733.9 423.3C732.3 423.5 730.6 423.6 728.9 423.7C727.2 423.9 725.6 424.1 723.9 424.2C722.2 424.4 720.5 424.6 718.9 424.8C717.2 425 715.5 425.2 713.9 425.4C712.2 425.7 710.5 425.9 708.9 426.2C707.2 426.4 705.5 426.7 703.9 427C702.2 427.3 700.6 427.6 698.9 427.9C697.3 428.2 695.6 428.6 694 429C692.3 429.3 690.7 429.7 689 430.1C687.4 430.5 685.7 430.9 684.1 431.4C682.5 431.8 680.8 432.2 679.2 432.7C677.6 433.2 676 433.7 674.3 434.2C672.7 434.7 671.1 435.2 669.5 435.8C667.9 436.3 666.3 436.9 664.8 437.5C663.2 438.1 661.6 438.7 660 439.3C658.5 440 656.9 440.6 655.4 441.3C653.8 441.9 652.3 442.6 650.8 443.3C649.2 444.1 647.7 444.8 646.2 445.5C644.7 446.3 643.2 447 641.8 447.8C640.3 448.6 638.8 449.4 637.4 450.3C635.9 451.1 634.5 452 633.1 452.8C631.7 453.7 630.2 454.6 628.9 455.5C627.5 456.4 626.1 457.4 624.7 458.3C623.4 459.3 622 460.3 620.7 461.3C619.4 462.3 618.1 463.3 616.8 464.3C615.5 465.4 614.2 466.5 613 467.6C611.7 468.6 610.5 469.8 609.3 470.9C608 472 606.9 473.2 605.7 474.4C604.5 475.5 603.4 476.8 602.2 478C601.1 479.2 600 480.5 598.9 481.7C597.8 483 596.7 484.3 595.7 485.6C594.7 486.9 593.6 488.2 592.6 489.6C591.6 491 590.6 492.3 589.7 493.7C588.7 495.1 587.8 496.5 586.8 497.9C585.9 499.3 585 500.8 584.1 502.2C583.2 503.6 582.3 505.1 581.4 506.6C580.6 508 579.7 509.5 578.9 511C578 512.5 577.2 514 576.4 515.5C575.6 517 574.8 518.5 574 520C573.2 521.6 572.5 523.1 571.7 524.6C570.9 526.1 570.2 527.7 569.5 529.2C568.7 530.7 568 532.3 567.3 533.8C566.6 535.3 565.9 536.9 565.2 538.4C564.5 539.9 563.8 541.5 563.1 543C562.4 544.5 561.7 546.1 561.1 547.6C560.4 549.1 559.7 550.6 559.1 552.1C558.4 553.6 557.8 555.1 557.1 556.7C556.5 558.2 555.8 559.6 555.2 561.1C554.5 562.6 553.9 564.1 553.3 565.6C552.6 567.1 552 568.6 551.4 570.1C550.8 571.6 550.1 573.1 549.5 574.6C548.9 576.1 548.3 577.6 547.6 579.1C547 580.6 546.4 582.2 545.7 583.7C545.1 585.2 544.5 586.8 543.9 588.3C543.2 589.8 542.6 591.4 541.9 593C541.3 594.5 540.7 596.1 540 597.7C539.4 599.3 538.7 600.9 538.1 602.5C537.4 604.2 536.7 605.8 536.1 607.5C535.4 609.1 534.7 610.8 534 612.5C533.3 614.2 532.7 615.9 531.9 617.6C531.2 619.2 530.5 620.9 529.7 622.6C528.9 624.2 528.1 625.8 527.3 627.3C526.4 628.9 525.5 630.4 524.6 631.7C523.6 633.1 522.7 634.4 521.6 635.6C520.5 636.8 519.4 637.9 518.2 638.8C517 639.8 515.7 640.6 514.3 641.2C512.9 641.9 511.5 642.4 510 642.7C508.5 643 506.9 643.1 505.3 643C503.8 643 502.1 642.7 500.6 642.3C499.1 641.8 497.6 641.1 496.2 640.2C494.7 639.4 493.4 638.3 492 637.3C490.7 636.3 489.4 635.1 488.2 634C486.9 632.9 485.7 631.7 484.5 630.6C483.3 629.4 482.1 628.2 481 626.9C479.9 625.7 478.8 624.4 477.7 623.2C476.6 621.9 475.6 620.6 474.6 619.2C473.5 617.9 472.5 616.6 471.5 615.2C470.6 613.8 469.6 612.5 468.6 611.1C467.7 609.7 466.7 608.3 465.8 606.9C464.9 605.4 464 604 463.1 602.6C462.2 601.2 461.3 599.7 460.4 598.3C459.5 596.8 458.6 595.4 457.7 593.9C456.8 592.5 455.9 591 455 589.5C454.1 588.1 453.2 586.6 452.3 585.2C451.4 583.7 450.5 582.3 449.6 580.8C448.7 579.4 447.8 578 446.9 576.5C445.9 575.1 445 573.7 444 572.3C443.1 570.9 442.1 569.5 441.1 568.1C440.1 566.8 439.1 565.4 438 564.1C437 562.7 435.9 561.4 434.9 560.1C433.8 558.8 432.7 557.5 431.6 556.2C430.5 555 429.4 553.7 428.2 552.5C427 551.3 425.9 550.1 424.7 548.9C423.5 547.7 422.3 546.6 421 545.4C419.8 544.3 418.5 543.2 417.3 542.2C416 541.1 414.7 540.1 413.4 539.1C412 538 410.7 537.1 409.3 536.1C408 535.2 406.6 534.3 405.2 533.4C403.8 532.5 402.3 531.7 400.9 530.8C399.4 530 398 529.2 396.5 528.5C395 527.7 393.5 527 392 526.3C390.5 525.5 388.9 524.9 387.4 524.2C385.9 523.5 384.3 522.9 382.7 522.3C381.2 521.7 379.6 521.1 378 520.5C376.4 519.9 374.8 519.4 373.2 518.8C371.6 518.3 370 517.8 368.4 517.3C366.7 516.8 365.1 516.3 363.5 515.8C361.9 515.4 360.2 514.9 358.6 514.5C356.9 514 355.3 513.6 353.7 513.2C352 512.8 350.4 512.4 348.7 512C347.1 511.6 345.4 511.2 343.8 510.9C342.1 510.5 340.5 510.1 338.8 509.8C337.2 509.5 335.5 509.2 333.9 508.8C332.2 508.5 330.6 508.2 328.9 508C327.2 507.7 325.6 507.4 323.9 507.1C322.2 506.9 320.6 506.6 318.9 506.4C317.2 506.2 315.6 505.9 313.9 505.7C312.2 505.5 310.6 505.3 308.9 505.1C307.2 505 305.6 504.8 303.9 504.6C302.2 504.5 300.5 504.3 298.9 504.2C297.2 504.1 295.5 503.9 293.8 503.8C292.2 503.7 290.5 503.6 288.8 503.5C287.1 503.4 285.5 503.4 283.8 503.3C282.1 503.3 280.4 503.2 278.7 503.2C277.1 503.1 275.4 503.1 273.7 503.1C272 503.1 270.4 503.1 268.7 503.1C267 503.1 265.3 503.1 263.6 503.2C262 503.2 260.3 503.2 258.6 503.3C256.9 503.4 255.2 503.4 253.6 503.5C251.9 503.6 250.2 503.7 248.5 503.8C246.9 503.9 245.2 504 243.5 504.2C241.8 504.3 240.2 504.4 238.5 504.6C236.8 504.7 235.1 504.9 233.5 505.1C231.8 505.2 230.1 505.4 228.5 505.6C226.8 505.8 225.1 506 223.4 506.3C221.8 506.5 220.1 506.7 218.4 507C216.8 507.2 214.3 507.6 213.5 507.7" fill="none" stroke="#262626" stroke-width="3.6" stroke-linecap="round" stroke-linejoin="round"/>
<path d="M233.9 346.6C234.1 347.4 234.9 349.9 235.5 351.5C236.1 353.1 236.8 354.7 237.6 356.2C238.4 357.8 239.3 359.3 240.2 360.7C241.1 362.2 242.1 363.6 243.1 364.9C244.1 366.3 245.2 367.6 246.4 368.8C247.5 370.1 248.7 371.3 249.9 372.5C251.2 373.6 252.5 374.7 253.8 375.8C255.1 376.8 256.4 377.8 257.8 378.7C259.2 379.7 260.6 380.5 262 381.3C263.4 382.1 264.9 382.9 266.3 383.6C267.8 384.3 269.3 384.9 270.8 385.5C272.3 386.1 273.9 386.6 275.4 387.1C276.9 387.6 278.5 388.1 280.1 388.5C281.7 388.9 283.3 389.2 284.9 389.5C286.5 389.9 288.1 390.2 289.8 390.4C291.4 390.7 293.1 390.9 294.7 391.1C296.4 391.3 298.1 391.4 299.8 391.5C301.4 391.7 303.1 391.8 304.8 391.9C306.5 392 308.2 392 310 392.1C311.7 392.1 313.4 392.2 315.1 392.2C316.8 392.2 318.6 392.2 320.3 392.3C322 392.3 323.8 392.3 325.5 392.3C327.2 392.3 329 392.2 330.7 392.2C332.4 392.2 334.2 392.2 335.9 392.2C337.6 392.2 339.3 392.2 341.1 392.2C342.8 392.2 344.5 392.3 346.2 392.3C347.9 392.3 349.6 392.4 351.4 392.4C353.1 392.4 354.8 392.5 356.5 392.5C358.2 392.6 359.9 392.7 361.6 392.7C363.2 392.8 364.9 392.9 366.6 392.9C368.3 393 370 393.1 371.7 393.2C373.4 393.2 375 393.3 376.7 393.4C378.4 393.5 380.1 393.6 381.8 393.7C383.4 393.8 385.1 393.9 386.8 394C388.4 394 390.1 394.1 391.8 394.2C393.4 394.3 395.1 394.4 396.8 394.5C398.4 394.6 400.1 394.7 401.8 394.8C403.4 394.9 405.1 395 406.7 395.1C408.4 395.2 410.1 395.3 411.7 395.4C413.4 395.4 415 395.5 416.7 395.6C418.4 395.7 420 395.8 421.7 395.8C423.3 395.9 425 396 426.6 396.1C428.3 396.1 430 396.2 431.6 396.2C433.3 396.3 434.9 396.4 436.6 396.4C438.3 396.4 439.9 396.5 441.6 396.5C443.2 396.5 444.9 396.6 446.6 396.6C448.2 396.6 449.9 396.6 451.6 396.6C453.2 396.6 454.9 396.6 456.6 396.6C458.2 396.6 459.9 396.5 461.6 396.5C463.3 396.5 464.9 396.4 466.6 396.4C468.3 396.3 470 396.3 471.6 396.2C473.3 396.1 475 396 476.7 395.9C478.4 395.8 480.1 395.7 481.8 395.6C483.4 395.4 485.1 395.3 486.8 395.2C488.5 395 490.2 394.8 491.9 394.7C493.6 394.5 495.3 394.3 496.9 394.1C498.6 393.9 500.3 393.6 502 393.4C503.7 393.1 505.4 392.9 507 392.6C508.7 392.3 510.4 392 512 391.7C513.7 391.4 515.4 391.1 517 390.7C518.7 390.4 520.4 390 522 389.6C523.7 389.2 525.3 388.8 526.9 388.4C528.6 387.9 530.2 387.5 531.8 387C533.5 386.5 535.1 386 536.7 385.5C538.3 385 539.9 384.4 541.5 383.9C543.1 383.3 544.7 382.7 546.3 382.1C547.9 381.5 549.4 380.8 551 380.2C552.5 379.5 554.1 378.8 555.6 378.1C557.1 377.4 558.6 376.6 560.1 375.8C561.5 375 563 374.2 564.4 373.4C565.9 372.6 567.3 371.7 568.7 370.8C570.1 369.9 571.4 368.9 572.7 368C574.1 367 575.4 366 576.6 365C577.9 363.9 579.1 362.8 580.3 361.7C581.6 360.6 582.7 359.5 583.9 358.3C585 357.1 586.1 355.9 587.2 354.6C588.2 353.4 589.3 352.1 590.3 350.8C591.3 349.5 592.3 348.2 593.3 346.8C594.2 345.5 595.1 344.1 596.1 342.7C597 341.3 597.8 339.8 598.7 338.4C599.6 336.9 600.4 335.5 601.2 334C602 332.5 602.8 331 603.6 329.5C604.4 327.9 605.2 326.4 605.9 324.9C606.6 323.3 607.4 321.8 608.1 320.2C608.8 318.6 609.5 317 610.2 315.5C610.9 313.9 611.5 312.3 612.2 310.7C612.9 309.1 613.5 307.5 614.2 305.9C614.8 304.3 615.4 302.7 616.1 301.1C616.7 299.5 617.3 297.9 617.9 296.3C618.6 294.7 619.2 293.1 619.8 291.5C620.4 289.9 621 288.3 621.6 286.7C622.2 285.1 622.8 283.5 623.4 281.9C624 280.4 624.5 278.8 625.1 277.2C625.7 275.6 626.3 274 626.9 272.5C627.4 270.9 628 269.3 628.6 267.7C629.1 266.2 629.7 264.6 630.3 263C630.8 261.5 631.4 259.9 632 258.3C632.5 256.8 633.1 255.2 633.6 253.6C634.2 252.1 634.7 250.5 635.3 248.9C635.8 247.4 636.4 245.8 636.9 244.2C637.5 242.7 638 241.1 638.6 239.5C639.1 238 639.7 236.4 640.2 234.8C640.8 233.3 641.3 231.7 641.9 230.2C642.4 228.6 643 227 643.5 225.5C644.1 223.9 644.6 222.3 645.2 220.8C645.7 219.2 646.2 217.6 646.8 216.1C647.3 214.5 647.9 212.9 648.5 211.3C649 209.8 649.6 208.2 650.1 206.6C650.7 205.1 651.2 203.5 651.8 201.9C652.3 200.3 652.9 198.7 653.5 197.2C654 195.6 654.6 194 655.2 192.4C655.8 190.8 656.3 189.2 656.9 187.6C657.5 186.1 658.1 184.5 658.6 182.9C659.2 181.3 659.8 179.7 660.4 178.1C661 176.5 661.6 174.9 662.2 173.3C662.8 171.7 663.5 170.1 664.1 168.5C664.7 166.9 665.4 165.3 666.1 163.8C666.8 162.2 667.5 160.7 668.2 159.1C669 157.6 669.7 156.1 670.5 154.6C671.3 153.1 672.2 151.6 673 150.2C673.9 148.7 674.8 147.3 675.8 145.9C676.8 144.6 677.8 143.2 678.8 141.9C679.9 140.6 681 139.3 682.2 138C683.4 136.8 684.6 135.6 685.9 134.4C687.2 133.3 688.5 132.2 689.9 131.2C691.3 130.2 692.7 129.3 694.2 128.5C695.7 127.8 697.2 127.1 698.8 126.6C700.3 126.1 701.9 125.7 703.5 125.5C705.1 125.3 706.7 125.2 708.3 125.3C709.9 125.4 711.5 125.6 713.1 126C714.6 126.4 716.2 127 717.6 127.7C719.1 128.3 720.5 129.2 721.9 130.1C723.2 131 724.4 132.1 725.6 133.3C726.8 134.5 727.9 135.8 728.9 137.1C730 138.5 731 139.9 731.9 141.4C732.8 142.9 733.7 144.4 734.6 145.9C735.4 147.4 736.3 148.9 737.1 150.4C737.8 152 738.6 153.5 739.3 155C740.1 156.5 740.8 158 741.5 159.6C742.2 161.1 742.9 162.6 743.5 164.2C744.2 165.7 744.8 167.2 745.4 168.8C746.1 170.3 746.7 171.9 747.3 173.4C747.9 175 748.5 176.5 749.1 178.1C749.7 179.6 750.3 181.2 750.9 182.8C751.4 184.4 752 185.9 752.6 187.5C753.2 189.1 753.7 190.7 754.3 192.3C754.9 193.9 755.4 195.5 756 197.1C756.6 198.6 757.1 200.2 757.7 201.8C758.3 203.4 758.8 205 759.4 206.6C760 208.2 760.6 209.8 761.1 211.4C761.7 213 762.3 214.6 762.9 216.2C763.5 217.8 764 219.4 764.6 220.9C765.2 222.5 765.8 224.1 766.5 225.7C767.1 227.3 767.7 228.9 768.3 230.4C769 232 769.6 233.6 770.3 235.1C770.9 236.7 771.6 238.2 772.2 239.8C772.9 241.3 773.6 242.9 774.3 244.4C775 246 775.7 247.5 776.5 249C777.2 250.5 777.9 252 778.7 253.5C779.5 255 780.2 256.5 781 258C781.8 259.5 782.7 261 783.5 262.4C784.3 263.9 785.2 265.3 786 266.8C786.9 268.2 787.8 269.6 788.7 271.1C789.6 272.5 790.6 273.9 791.5 275.3C792.4 276.7 793.4 278 794.4 279.4C795.4 280.8 796.4 282.1 797.4 283.5C798.4 284.8 799.4 286.1 800.5 287.5C801.5 288.8 802.6 290.1 803.7 291.3C804.7 292.6 805.8 293.9 807 295.2C808.1 296.4 809.2 297.7 810.3 298.9C811.5 300.1 812.6 301.3 813.8 302.5C815 303.7 816.2 304.9 817.4 306.1C818.6 307.2 819.8 308.4 821 309.5C822.3 310.6 823.5 311.7 824.8 312.8C826.1 313.9 827.3 315 828.6 316.1C829.9 317.1 831.2 318.2 832.5 319.2C833.9 320.2 835.2 321.2 836.5 322.2C837.9 323.2 839.2 324.2 840.6 325.1C842 326.1 843.4 327 844.8 327.9C846.2 328.8 847.6 329.7 849 330.6C850.4 331.4 851.9 332.3 853.3 333.1C854.8 333.9 856.2 334.7 857.7 335.5C859.2 336.3 860.6 337.1 862.1 337.8C863.6 338.6 865.1 339.3 866.6 340C868.2 340.7 869.7 341.4 871.2 342C872.8 342.7 874.3 343.3 875.9 343.9C877.4 344.5 879 345.1 880.6 345.6C882.1 346.2 883.7 346.7 885.3 347.2C886.9 347.8 888.5 348.2 890.1 348.7C891.8 349.2 893.4 349.6 895 350C896.6 350.4 898.3 350.8 899.9 351.2C901.6 351.6 903.2 351.9 904.9 352.2C906.6 352.6 908.2 352.9 909.9 353.2C911.6 353.4 913.3 353.7 915 354C916.6 354.2 918.3 354.4 920 354.6C921.7 354.9 923.4 355 925.1 355.2C926.8 355.4 928.5 355.6 930.2 355.7C931.9 355.9 933.6 356 935.4 356.1C937.1 356.2 938.8 356.3 940.5 356.4C942.2 356.5 943.9 356.6 945.6 356.7C947.4 356.7 949.1 356.8 950.8 356.8C952.5 356.9 954.2 356.9 955.9 356.9C957.6 357 959.4 357 961.1 357C962.8 357 964.5 357 966.2 357C967.9 357 969.6 357 971.3 357C973 357 974.7 356.9 976.3 356.9C978 356.9 979.7 356.8 981.4 356.8C983.1 356.8 984.7 356.7 986.4 356.7C988.1 356.7 989.7 356.6 991.4 356.6C993 356.5 994.7 356.5 996.3 356.4C997.9 356.4 999.6 356.4 1001.2 356.3C1002.8 356.3 1004.4 356.2 1006 356.2C1007.6 356.1 1009.2 356 1010.9 355.9C1012.5 355.8 1014.1 355.7 1015.7 355.6C1017.4 355.4 1019 355.3 1020.7 355.1C1022.3 354.8 1024 354.6 1025.7 354.3C1027.4 354 1029.1 353.7 1030.8 353.3C1032.6 352.8 1035.3 352.1 1036.2 351.9" fill="none" stroke="#7d7d7d" stroke-width="2.1" stroke-linecap="round" stroke-linejoin="round"/>
<path d="M1035.8 353.8C1035.2 354.4 1033.4 356 1032.2 357.2C1030.9 358.3 1029.7 359.4 1028.5 360.6C1027.3 361.7 1026.1 362.9 1024.8 364C1023.6 365.2 1022.4 366.3 1021.1 367.5C1019.9 368.6 1018.6 369.8 1017.4 370.9C1016.1 372 1014.8 373.2 1013.6 374.3C1012.3 375.4 1011 376.5 1009.7 377.6C1008.4 378.7 1007.1 379.8 1005.7 380.8C1004.4 381.8 1003 382.9 1001.7 383.9C1000.3 384.8 998.9 385.8 997.6 386.7C996.2 387.7 994.8 388.6 993.3 389.4C991.9 390.3 990.5 391.1 989 391.9C987.5 392.7 986.1 393.5 984.6 394.2C983.1 395 981.6 395.7 980.1 396.3C978.6 397 977 397.6 975.5 398.3C973.9 398.9 972.4 399.5 970.8 400C969.3 400.6 967.7 401.1 966.1 401.6C964.5 402.1 962.9 402.6 961.3 403.1C959.7 403.6 958.1 404 956.5 404.4C954.8 404.9 953.2 405.3 951.6 405.7C949.9 406 948.3 406.4 946.6 406.8C945 407.1 943.3 407.5 941.7 407.8C940 408.1 938.3 408.4 936.7 408.7C935 409 933.3 409.3 931.7 409.6C930 409.9 928.3 410.1 926.7 410.4C925 410.7 923.3 410.9 921.6 411.1C920 411.4 918.3 411.6 916.6 411.9C914.9 412.1 913.2 412.3 911.6 412.5C909.9 412.7 908.2 412.9 906.5 413.1C904.9 413.4 903.2 413.5 901.5 413.7C899.8 413.9 898.1 414.1 896.5 414.3C894.8 414.5 893.1 414.6 891.4 414.8C889.8 415 888.1 415.1 886.4 415.3C884.7 415.5 883 415.6 881.4 415.8C879.7 415.9 878 416.1 876.3 416.2C874.6 416.3 873 416.5 871.3 416.6C869.6 416.7 867.9 416.9 866.2 417C864.5 417.1 862.9 417.2 861.2 417.4C859.5 417.5 857.8 417.6 856.1 417.7C854.5 417.8 852.8 417.9 851.1 418C849.4 418.1 847.7 418.2 846.1 418.3C844.4 418.5 842.7 418.6 841 418.7C839.3 418.8 837.6 418.8 836 418.9C834.3 419 832.6 419.1 830.9 419.2C829.2 419.3 827.6 419.4 825.9 419.5C824.2 419.6 822.5 419.7 820.8 419.8C819.2 419.9 817.5 420 815.8 420.1C814.1 420.2 812.4 420.2 810.8 420.3C809.1 420.4 807.4 420.5 805.7 420.6C804.1 420.7 802.4 420.8 800.7 420.9C799 421 797.3 421.1 795.7 421.2C794 421.3 792.3 421.4 790.6 421.5C789 421.6 787.3 421.7 785.6 421.8C783.9 421.9 782.3 422 780.6 422.1C778.9 422.2 777.2 422.3 775.6 422.5C773.9 422.6 772.2 422.7 770.5 422.8C768.9 422.9 767.2 423.1 765.5 423.2C763.8 423.3 762.2 423.4 760.5 423.6C758.8 423.7 757.2 423.9 755.5 424C753.8 424.1 752.2 424.3 750.5 424.4C748.8 424.6 747.2 424.8 745.5 424.9C743.8 425.1 742.2 425.2 740.5 425.4C738.8 425.6 737.2 425.8 735.5 426C733.8 426.1 732.2 426.3 730.5 426.5C728.8 426.7 727.2 426.9 725.5 427.1C723.9 427.3 722.2 427.6 720.5 427.8C718.9 428 717.2 428.3 715.6 428.5C713.9 428.7 712.3 429 710.6 429.3C709 429.5 707.3 429.8 705.7 430.1C704 430.4 702.4 430.7 700.8 431C699.1 431.3 697.5 431.7 695.9 432C694.2 432.4 692.6 432.7 691 433.1C689.4 433.5 687.7 433.9 686.1 434.3C684.5 434.7 682.9 435.2 681.3 435.6C679.7 436.1 678.1 436.6 676.5 437.1C674.9 437.6 673.3 438.1 671.8 438.6C670.2 439.2 668.6 439.8 667 440.3C665.5 440.9 663.9 441.6 662.4 442.2C660.8 442.8 659.3 443.5 657.7 444.2C656.2 444.9 654.7 445.6 653.1 446.4C651.6 447.1 650.1 447.9 648.6 448.7C647.1 449.5 645.6 450.4 644.1 451.2C642.6 452.1 641.2 453 639.7 453.9C638.2 454.9 636.8 455.8 635.4 456.8C633.9 457.8 632.5 458.8 631.1 459.8C629.7 460.8 628.3 461.9 627 462.9C625.6 464 624.3 465.1 623 466.2C621.7 467.3 620.4 468.4 619.1 469.6C617.9 470.7 616.7 471.9 615.4 473C614.2 474.2 613.1 475.4 611.9 476.6C610.7 477.8 609.6 479 608.5 480.3C607.4 481.5 606.3 482.8 605.3 484C604.2 485.3 603.2 486.6 602.1 487.9C601.1 489.2 600.1 490.5 599.2 491.8C598.2 493.1 597.2 494.5 596.3 495.8C595.3 497.2 594.4 498.5 593.5 499.9C592.6 501.3 591.7 502.7 590.9 504.1C590 505.5 589.2 506.9 588.3 508.3C587.5 509.7 586.7 511.2 585.9 512.6C585 514.1 584.3 515.5 583.5 517C582.7 518.4 581.9 519.9 581.2 521.4C580.4 522.9 579.7 524.4 579 525.9C578.2 527.4 577.5 528.9 576.8 530.4C576.1 532 575.4 533.5 574.7 535C574 536.6 573.3 538.1 572.6 539.7C571.9 541.2 571.3 542.8 570.6 544.4C569.9 545.9 569.3 547.5 568.6 549.1C568 550.7 567.3 552.2 566.7 553.8C566 555.4 565.4 557 564.8 558.6C564.1 560.2 563.5 561.8 562.9 563.4C562.3 565 561.6 566.6 561 568.2C560.4 569.8 559.8 571.4 559.2 573C558.6 574.5 557.9 576.1 557.3 577.7C556.7 579.3 556.1 580.9 555.5 582.5C554.9 584.1 554.3 585.7 553.7 587.2C553.1 588.8 552.5 590.4 551.9 591.9C551.3 593.5 550.7 595.1 550 596.6C549.4 598.2 548.8 599.7 548.2 601.2C547.6 602.8 547 604.3 546.4 605.8C545.7 607.3 545.1 608.9 544.5 610.4C543.9 611.9 543.3 613.4 542.6 614.9C542 616.4 541.4 617.9 540.8 619.4C540.1 620.9 539.5 622.4 538.9 623.9C538.2 625.4 537.6 627 537 628.5C536.3 630 535.7 631.5 535.1 633.1C534.4 634.6 533.8 636.2 533.2 637.8C532.5 639.3 531.9 640.9 531.2 642.5C530.6 644.1 529.9 645.7 529.3 647.4C528.7 649 528 650.6 527.4 652.3C526.7 654 526.1 655.7 525.4 657.3C524.7 659 524 660.7 523.3 662.3C522.5 663.9 521.7 665.5 520.9 667C520.1 668.6 519.2 670.1 518.3 671.5C517.3 672.9 516.3 674.2 515.3 675.5C514.2 676.7 513 677.9 511.8 678.9C510.5 680 509.2 680.9 507.8 681.7C506.4 682.5 504.8 683.1 503.3 683.5C501.8 683.9 500.3 684 498.7 684C497.2 684 495.6 683.8 494 683.5C492.5 683.1 490.9 682.6 489.3 682C487.8 681.5 486.2 680.7 484.7 679.9C483.2 679.1 481.7 678.3 480.2 677.3C478.7 676.4 477.3 675.4 475.9 674.4C474.6 673.4 473.2 672.4 471.9 671.3C470.6 670.3 469.4 669.2 468.1 668C466.9 666.9 465.7 665.7 464.6 664.5C463.4 663.3 462.3 662.1 461.1 660.8C460 659.6 459 658.3 457.9 657C456.8 655.7 455.8 654.4 454.8 653C453.8 651.7 452.8 650.3 451.8 649C450.8 647.6 449.9 646.2 448.9 644.8C448 643.4 447.1 641.9 446.2 640.5C445.2 639.1 444.3 637.6 443.4 636.2C442.5 634.8 441.6 633.3 440.7 631.8C439.9 630.4 439 628.9 438.1 627.5C437.2 626 436.3 624.5 435.5 623.1C434.6 621.6 433.7 620.1 432.8 618.7C431.9 617.2 431 615.7 430.2 614.3C429.3 612.8 428.4 611.4 427.5 609.9C426.6 608.5 425.7 607.1 424.7 605.6C423.8 604.2 422.9 602.8 422 601.4C421 600 420.1 598.6 419.1 597.2C418.2 595.8 417.2 594.4 416.2 593.1C415.2 591.7 414.2 590.4 413.2 589.1C412.2 587.7 411.1 586.4 410.1 585.2C409 583.9 408 582.6 406.9 581.4C405.8 580.1 404.6 578.9 403.5 577.7C402.4 576.5 401.2 575.3 400 574.2C398.8 573 397.6 571.9 396.4 570.8C395.1 569.7 393.9 568.6 392.6 567.6C391.3 566.5 389.9 565.5 388.6 564.5C387.3 563.5 385.9 562.6 384.5 561.7C383.1 560.7 381.7 559.8 380.2 558.9C378.8 558.1 377.4 557.2 375.9 556.4C374.4 555.5 372.9 554.7 371.4 553.9C369.9 553.2 368.4 552.4 366.9 551.7C365.4 550.9 363.8 550.2 362.3 549.5C360.7 548.8 359.2 548.2 357.6 547.5C356.1 546.9 354.5 546.2 352.9 545.6C351.4 545 349.8 544.5 348.2 543.9C346.6 543.3 345 542.8 343.4 542.2C341.8 541.7 340.2 541.2 338.6 540.7C337 540.2 335.4 539.8 333.8 539.3C332.1 538.9 330.5 538.4 328.9 538C327.3 537.6 325.6 537.2 324 536.8C322.4 536.5 320.7 536.1 319.1 535.7C317.4 535.4 315.8 535.1 314.1 534.8C312.5 534.4 310.8 534.2 309.2 533.9C307.5 533.6 305.9 533.3 304.2 533.1C302.5 532.8 300.9 532.6 299.2 532.4C297.5 532.1 295.8 531.9 294.2 531.7C292.5 531.5 290.8 531.4 289.1 531.2C287.5 531 285.8 530.9 284.1 530.7C282.4 530.6 280.7 530.5 279.1 530.3C277.4 530.2 275.7 530.1 274 530C272.3 529.9 270.6 529.9 268.9 529.8C267.3 529.7 265.6 529.7 263.9 529.6C262.2 529.6 260.5 529.5 258.8 529.5C257.1 529.5 255.4 529.4 253.8 529.4C252.1 529.4 250.4 529.4 248.7 529.4C247 529.4 245.3 529.4 243.6 529.5C242 529.5 240.3 529.5 238.6 529.6C236.9 529.6 235.2 529.6 233.6 529.7C231.9 529.8 230.2 529.8 228.5 529.9C226.9 529.9 225.2 530 223.5 530.1C221.9 530.2 220.2 530.3 218.5 530.3C216.9 530.4 214.4 530.6 213.6 530.6" fill="none" stroke="#7d7d7d" stroke-width="2.1" stroke-linecap="round" stroke-linejoin="round"/>
<path d="M237.8 513.1C237.9 512.2 238.2 509.6 238.4 507.9C238.7 506.2 239 504.5 239.4 502.8C239.7 501.2 240.1 499.5 240.5 497.9C241 496.3 241.4 494.7 241.9 493.1C242.4 491.5 243 489.9 243.5 488.3C244.1 486.8 244.7 485.2 245.3 483.7C245.9 482.2 246.6 480.7 247.3 479.2C248 477.7 248.7 476.2 249.4 474.7C250.2 473.2 250.9 471.8 251.7 470.3C252.5 468.8 253.3 467.4 254.2 466C255 464.5 255.9 463.1 256.8 461.7C257.7 460.2 258.6 458.8 259.6 457.4C260.5 456 261.4 454.6 262.4 453.2C263.4 451.8 264.4 450.4 265.4 449C266.4 447.7 267.5 446.3 268.5 445C269.6 443.6 270.7 442.3 271.8 441C272.9 439.7 274 438.4 275.2 437.2C276.3 435.9 277.5 434.7 278.7 433.5C279.9 432.3 281.1 431.1 282.4 430C283.6 428.8 284.9 427.7 286.2 426.7C287.5 425.6 288.8 424.6 290.1 423.6C291.5 422.6 292.8 421.6 294.2 420.8C295.6 419.9 297 419 298.5 418.2C299.9 417.4 301.4 416.6 302.8 415.9C304.3 415.2 305.8 414.5 307.3 413.9C308.9 413.2 310.4 412.6 311.9 412.1C313.5 411.5 315.1 411 316.7 410.5C318.3 410 319.9 409.5 321.5 409.1C323.1 408.6 324.7 408.2 326.4 407.8C328 407.4 329.6 407.1 331.3 406.7C333 406.4 334.6 406.1 336.3 405.8C338 405.5 339.7 405.2 341.3 405C343 404.7 344.7 404.5 346.4 404.2C348.1 404 349.8 403.8 351.5 403.6C353.2 403.4 354.9 403.2 356.6 403C358.3 402.8 360 402.6 361.7 402.5C363.4 402.3 365 402.1 366.7 401.9C368.4 401.8 370.1 401.6 371.8 401.4C373.5 401.3 375.1 401.1 376.8 401C378.5 400.8 380.2 400.7 381.8 400.5C383.5 400.4 385.2 400.2 386.9 400.1C388.5 400 390.2 399.8 391.9 399.7C393.6 399.6 395.2 399.4 396.9 399.3C398.6 399.2 400.2 399 401.9 398.9C403.6 398.8 405.2 398.7 406.9 398.6C408.5 398.4 410.2 398.3 411.9 398.2C413.5 398.1 415.2 398 416.9 397.9C418.5 397.8 420.2 397.6 421.9 397.5C423.5 397.4 425.2 397.3 426.8 397.2C428.5 397.1 430.2 397 431.8 396.9C433.5 396.8 435.2 396.7 436.8 396.5C438.5 396.4 440.2 396.3 441.8 396.2C443.5 396.1 445.2 396 446.8 395.9C448.5 395.8 450.2 395.6 451.8 395.5C453.5 395.4 455.2 395.3 456.8 395.2C458.5 395.1 460.2 394.9 461.9 394.8C463.5 394.7 465.2 394.6 466.9 394.4C468.6 394.3 470.3 394.2 472 394C473.6 393.9 475.3 393.8 477 393.6C478.7 393.5 480.4 393.4 482.1 393.2C483.8 393 485.4 392.9 487.1 392.7C488.8 392.6 490.5 392.4 492.2 392.2C493.9 392 495.6 391.8 497.2 391.6C498.9 391.4 500.6 391.2 502.3 390.9C504 390.7 505.6 390.5 507.3 390.2C509 389.9 510.6 389.7 512.3 389.4C514 389.1 515.6 388.8 517.3 388.5C518.9 388.1 520.6 387.8 522.2 387.4C523.8 387.1 525.5 386.7 527.1 386.3C528.7 385.9 530.3 385.5 532 385C533.6 384.6 535.2 384.1 536.8 383.6C538.4 383.1 540 382.6 541.5 382C543.1 381.5 544.7 380.9 546.3 380.3C547.8 379.7 549.4 379.1 550.9 378.5C552.5 377.8 554 377.1 555.5 376.4C557 375.7 558.5 374.9 560 374.2C561.5 373.4 563 372.6 564.4 371.7C565.9 370.9 567.3 370 568.7 369.1C570.1 368.1 571.5 367.2 572.8 366.2C574.2 365.2 575.5 364.2 576.8 363.1C578 362 579.3 360.9 580.5 359.7C581.7 358.6 582.8 357.4 583.9 356.1C585 354.9 586.1 353.6 587.2 352.3C588.2 351 589.2 349.7 590.2 348.3C591.2 346.9 592.1 345.5 593.1 344.1C594 342.7 594.9 341.2 595.8 339.8C596.6 338.3 597.5 336.9 598.3 335.4C599.2 333.9 600 332.4 600.8 330.9C601.6 329.4 602.4 327.9 603.2 326.4C604 324.9 604.8 323.4 605.6 321.9C606.3 320.4 607.1 318.9 607.8 317.4C608.6 315.8 609.3 314.3 610.1 312.8C610.8 311.3 611.5 309.8 612.2 308.2C612.9 306.7 613.6 305.2 614.3 303.7C615 302.1 615.7 300.6 616.4 299.1C617.1 297.5 617.7 296 618.4 294.5C619.1 292.9 619.7 291.4 620.4 289.8C621 288.3 621.7 286.8 622.3 285.2C622.9 283.7 623.6 282.1 624.2 280.6C624.8 279 625.4 277.5 626 275.9C626.6 274.3 627.3 272.8 627.8 271.2C628.4 269.7 629 268.1 629.6 266.5C630.2 265 630.8 263.4 631.4 261.8C632 260.3 632.5 258.7 633.1 257.1C633.7 255.5 634.2 254 634.8 252.4C635.4 250.8 635.9 249.2 636.5 247.6C637 246 637.6 244.5 638.1 242.9C638.7 241.3 639.2 239.7 639.8 238.1C640.3 236.5 640.9 234.9 641.4 233.3C641.9 231.7 642.5 230.1 643 228.5C643.5 226.9 644.1 225.3 644.6 223.8C645.1 222.2 645.6 220.6 646.2 219C646.7 217.4 647.2 215.8 647.7 214.1C648.3 212.5 648.8 210.9 649.3 209.3C649.8 207.7 650.3 206.1 650.9 204.5C651.4 202.9 651.9 201.3 652.4 199.7C652.9 198.1 653.4 196.5 654 194.9C654.5 193.3 655 191.7 655.5 190.1C656 188.5 656.5 186.9 657.1 185.3C657.6 183.7 658.1 182.1 658.6 180.5C659.1 178.9 659.6 177.3 660.2 175.7C660.7 174.1 661.2 172.5 661.7 170.9C662.3 169.3 662.8 167.7 663.3 166.1C663.9 164.5 664.4 162.9 665 161.3C665.5 159.7 666.1 158.1 666.6 156.5C667.2 155 667.7 153.4 668.3 151.8C668.9 150.2 669.5 148.7 670.1 147.1C670.7 145.5 671.3 144 671.9 142.4C672.5 140.9 673.1 139.3 673.8 137.8C674.4 136.2 675.1 134.7 675.7 133.1C676.4 131.6 677.1 130.1 677.8 128.5C678.5 127 679.2 125.5 679.9 124C680.7 122.5 681.4 121 682.2 119.5C682.9 118 683.7 116.5 684.5 115.1C685.3 113.6 686.1 112.1 687 110.7C687.8 109.2 688.7 107.8 689.6 106.3C690.5 104.9 691.4 103.5 692.3 102C693.3 100.6 694.2 99.2 695.2 97.8C696.2 96.4 697.2 95 698.2 93.7C699.3 92.4 700.3 91 701.5 89.7C702.6 88.5 703.7 87.2 704.9 86.1C706.1 84.9 707.3 83.8 708.6 82.8C709.9 81.8 711.3 80.8 712.7 80C714.1 79.2 715.5 78.4 717 77.8C718.6 77.2 720.1 76.7 721.8 76.4C723.4 76 725.2 75.8 726.9 75.7C728.7 75.6 730.5 75.7 732.2 75.9C733.9 76.1 735.6 76.5 737.2 77.1C738.8 77.6 740.3 78.4 741.7 79.2C743.2 80 744.5 81 745.7 82.1C747 83.2 748.1 84.4 749.2 85.7C750.3 86.9 751.2 88.3 752.2 89.7C753.1 91.1 754 92.5 754.8 94C755.7 95.4 756.5 96.9 757.3 98.4C758.1 99.9 758.8 101.4 759.6 102.9C760.3 104.5 761.1 106 761.8 107.5C762.5 109.1 763.2 110.6 763.9 112.2C764.6 113.7 765.2 115.3 765.9 116.8C766.6 118.4 767.3 120 767.9 121.5C768.6 123.1 769.2 124.6 769.9 126.2C770.6 127.7 771.2 129.3 771.9 130.8C772.6 132.4 773.2 133.9 773.9 135.4C774.6 137 775.2 138.5 775.9 140C776.5 141.6 777.2 143.1 777.9 144.6C778.5 146.2 779.2 147.7 779.9 149.2C780.5 150.7 781.2 152.3 781.9 153.8C782.5 155.3 783.2 156.8 783.8 158.4C784.5 159.9 785.2 161.4 785.8 162.9C786.5 164.5 787.2 166 787.8 167.5C788.5 169 789.2 170.6 789.8 172.1C790.5 173.6 791.2 175.1 791.8 176.7C792.5 178.2 793.2 179.7 793.8 181.3C794.5 182.8 795.2 184.3 795.8 185.9C796.5 187.4 797.2 189 797.8 190.5C798.5 192.1 799.2 193.6 799.8 195.2C800.5 196.7 801.2 198.3 801.9 199.9C802.5 201.4 803.2 203 803.9 204.5C804.6 206.1 805.3 207.7 805.9 209.2C806.6 210.8 807.3 212.3 808 213.9C808.7 215.4 809.4 217 810.1 218.5C810.9 220.1 811.6 221.6 812.3 223.2C813 224.7 813.8 226.2 814.5 227.8C815.3 229.3 816 230.8 816.8 232.3C817.6 233.8 818.3 235.4 819.1 236.8C819.9 238.3 820.7 239.8 821.6 241.3C822.4 242.8 823.2 244.3 824 245.7C824.9 247.2 825.7 248.6 826.6 250.1C827.5 251.5 828.4 252.9 829.3 254.3C830.2 255.7 831.1 257.1 832.1 258.5C833 259.9 834 261.2 834.9 262.6C835.9 263.9 836.9 265.3 837.9 266.6C838.9 267.9 840 269.2 841 270.5C842.1 271.7 843.2 273 844.3 274.2C845.4 275.5 846.5 276.7 847.7 277.9C848.8 279.1 850 280.3 851.2 281.4C852.3 282.6 853.6 283.7 854.8 284.8C856 286 857.3 287.1 858.5 288.1C859.8 289.2 861.1 290.3 862.4 291.3C863.7 292.4 865 293.4 866.3 294.4C867.7 295.4 869 296.4 870.4 297.4C871.8 298.3 873.1 299.3 874.5 300.2C875.9 301.1 877.4 302 878.8 302.9C880.2 303.8 881.7 304.7 883.1 305.5C884.6 306.4 886 307.2 887.5 308.1C889 308.9 890.5 309.7 892 310.5C893.5 311.2 895 312 896.5 312.7C898.1 313.5 899.6 314.2 901.1 314.9C902.7 315.6 904.2 316.3 905.8 317C907.4 317.7 908.9 318.3 910.5 319C912.1 319.6 913.7 320.2 915.3 320.8C916.9 321.4 918.5 322 920.1 322.6C921.7 323.2 923.3 323.7 924.9 324.2C926.5 324.8 928.1 325.3 929.8 325.8C931.4 326.3 933 326.8 934.6 327.2C936.3 327.7 937.9 328.1 939.6 328.6C941.2 329 942.8 329.4 944.5 329.8C946.1 330.2 947.7 330.6 949.4 331C951 331.3 952.7 331.7 954.3 332C956 332.3 957.6 332.7 959.2 333C960.9 333.2 962.5 333.5 964.2 333.8C965.8 334 967.5 334.3 969.1 334.5C970.8 334.7 972.4 334.9 974 335.1C975.7 335.3 977.4 335.4 979 335.6C980.7 335.7 982.3 335.8 984 335.9C985.6 336 987.3 336 988.9 336.1C990.6 336.1 992.3 336.1 993.9 336.1C995.6 336.1 997.3 336.1 998.9 336C1000.6 336 1002.3 335.9 1003.9 335.8C1005.6 335.7 1007.3 335.6 1009 335.4C1010.7 335.2 1012.3 335 1014 334.8C1015.7 334.6 1017.4 334.3 1019.1 334.1C1020.8 333.9 1022.5 333.5 1024.1 333.5C1025.7 333.5 1027.4 333.6 1028.9 334.1C1030.3 334.6 1031.8 335.6 1033.1 336.7C1034.3 337.8 1035.5 339.4 1036.3 340.9C1037.1 342.4 1037.7 344.2 1037.9 345.9C1038 347.5 1037.9 349.2 1037.3 350.7C1036.6 352.1 1034.5 353.9 1034 354.6" fill="none" stroke="#262626" stroke-width="2.1" stroke-linecap="round" stroke-linejoin="round"/>
<path d="M1038.1 354.8C1038 355.8 1037.6 358.8 1037.2 360.7C1036.8 362.5 1036.3 364.3 1035.8 366C1035.2 367.7 1034.5 369.3 1033.8 370.8C1033 372.3 1032.2 373.7 1031.3 375.1C1030.4 376.5 1029.4 377.8 1028.4 379C1027.4 380.3 1026.3 381.4 1025.1 382.5C1024 383.6 1022.8 384.7 1021.5 385.7C1020.2 386.6 1018.9 387.6 1017.6 388.5C1016.2 389.3 1014.8 390.2 1013.4 391C1011.9 391.8 1010.4 392.5 1008.9 393.2C1007.4 393.9 1005.9 394.6 1004.3 395.2C1002.7 395.9 1001.2 396.5 999.6 397C998 397.6 996.3 398.2 994.7 398.7C993.1 399.2 991.4 399.7 989.8 400.2C988.2 400.7 986.5 401.2 984.9 401.6C983.2 402.1 981.6 402.6 979.9 403C978.3 403.4 976.7 403.9 975 404.3C973.4 404.7 971.7 405.1 970.1 405.5C968.4 405.8 966.8 406.2 965.1 406.6C963.5 406.9 961.8 407.3 960.2 407.6C958.5 408 956.9 408.3 955.2 408.6C953.6 408.9 951.9 409.2 950.3 409.5C948.6 409.8 947 410.1 945.3 410.4C943.7 410.6 942 410.9 940.4 411.1C938.7 411.4 937 411.6 935.4 411.9C933.7 412.1 932.1 412.3 930.4 412.5C928.8 412.8 927.1 413 925.4 413.2C923.8 413.4 922.1 413.6 920.5 413.7C918.8 413.9 917.1 414.1 915.5 414.3C913.8 414.4 912.2 414.6 910.5 414.7C908.8 414.9 907.2 415.1 905.5 415.2C903.8 415.3 902.2 415.5 900.5 415.6C898.9 415.7 897.2 415.9 895.5 416C893.9 416.1 892.2 416.2 890.5 416.3C888.9 416.4 887.2 416.5 885.5 416.6C883.9 416.7 882.2 416.8 880.5 416.9C878.9 417 877.2 417.1 875.5 417.2C873.8 417.3 872.2 417.3 870.5 417.4C868.8 417.5 867.2 417.6 865.5 417.6C863.8 417.7 862.2 417.8 860.5 417.9C858.8 417.9 857.1 418 855.5 418.1C853.8 418.1 852.1 418.2 850.4 418.2C848.8 418.3 847.1 418.4 845.4 418.4C843.8 418.5 842.1 418.6 840.4 418.6C838.7 418.7 837.1 418.7 835.4 418.8C833.7 418.9 832 418.9 830.4 419C828.7 419 827 419.1 825.3 419.2C823.6 419.2 822 419.3 820.3 419.4C818.6 419.4 816.9 419.5 815.3 419.6C813.6 419.7 811.9 419.7 810.2 419.8C808.6 419.9 806.9 420 805.2 420C803.5 420.1 801.8 420.2 800.2 420.3C798.5 420.4 796.8 420.5 795.1 420.6C793.4 420.7 791.8 420.8 790.1 420.9C788.4 421 786.7 421.1 785.1 421.2C783.4 421.4 781.7 421.5 780 421.6C778.3 421.7 776.7 421.9 775 422C773.3 422.2 771.6 422.3 769.9 422.5C768.3 422.6 766.6 422.8 764.9 422.9C763.2 423.1 761.5 423.3 759.9 423.5C758.2 423.6 756.5 423.8 754.8 424C753.1 424.2 751.4 424.4 749.8 424.7C748.1 424.9 746.4 425.1 744.7 425.3C743.1 425.6 741.4 425.8 739.7 426.1C738 426.3 736.4 426.6 734.7 426.8C733 427.1 731.4 427.4 729.7 427.7C728 428 726.4 428.3 724.7 428.6C723 428.9 721.4 429.3 719.7 429.6C718.1 429.9 716.4 430.3 714.8 430.7C713.2 431 711.5 431.4 709.9 431.8C708.3 432.2 706.6 432.6 705 433C703.4 433.4 701.8 433.9 700.1 434.3C698.5 434.8 696.9 435.2 695.3 435.7C693.7 436.2 692.1 436.7 690.5 437.2C688.9 437.7 687.4 438.2 685.8 438.8C684.2 439.3 682.7 439.9 681.1 440.5C679.5 441 678 441.6 676.4 442.2C674.9 442.9 673.4 443.5 671.8 444.1C670.3 444.8 668.8 445.4 667.3 446.1C665.8 446.8 664.3 447.5 662.8 448.2C661.3 448.9 659.8 449.7 658.3 450.5C656.9 451.2 655.4 452 654 452.8C652.5 453.6 651.1 454.4 649.7 455.3C648.2 456.1 646.8 457 645.4 457.8C644 458.7 642.6 459.6 641.2 460.6C639.9 461.5 638.5 462.5 637.1 463.4C635.8 464.4 634.4 465.4 633.1 466.4C631.8 467.4 630.5 468.5 629.2 469.6C627.9 470.6 626.6 471.7 625.3 472.8C624 473.9 622.8 475.1 621.5 476.2C620.3 477.4 619.1 478.6 617.8 479.8C616.6 481 615.5 482.2 614.3 483.5C613.1 484.7 612 486 610.9 487.3C609.7 488.5 608.6 489.8 607.6 491.2C606.5 492.5 605.4 493.8 604.4 495.2C603.4 496.5 602.4 497.9 601.4 499.3C600.4 500.7 599.5 502.1 598.6 503.5C597.7 504.9 596.8 506.3 595.9 507.8C595.1 509.2 594.3 510.7 593.5 512.2C592.7 513.6 591.9 515.1 591.2 516.6C590.5 518.1 589.7 519.6 589 521.1C588.3 522.6 587.7 524.1 587 525.7C586.3 527.2 585.7 528.7 585 530.2C584.4 531.8 583.7 533.3 583.1 534.8C582.4 536.4 581.8 537.9 581.1 539.4C580.5 541 579.8 542.5 579.1 544C578.5 545.6 577.8 547.1 577.1 548.6C576.4 550.2 575.8 551.7 575.1 553.2C574.4 554.8 573.7 556.3 573 557.8C572.3 559.3 571.6 560.9 570.9 562.4C570.2 563.9 569.5 565.5 568.8 567C568.1 568.5 567.4 570.1 566.7 571.6C566 573.1 565.3 574.6 564.6 576.2C563.9 577.7 563.2 579.2 562.5 580.8C561.8 582.3 561.1 583.8 560.4 585.4C559.8 586.9 559.1 588.4 558.4 590C557.7 591.5 557 593.1 556.4 594.6C555.7 596.1 555 597.7 554.4 599.2C553.7 600.8 553 602.3 552.4 603.9C551.7 605.4 551.1 607 550.5 608.5C549.8 610.1 549.2 611.6 548.6 613.2C548 614.8 547.4 616.3 546.8 617.9C546.2 619.5 545.6 621 545.1 622.6C544.5 624.2 543.9 625.7 543.4 627.3C542.8 628.9 542.3 630.5 541.7 632C541.2 633.6 540.7 635.2 540.1 636.8C539.6 638.4 539.1 640 538.6 641.5C538 643.1 537.5 644.7 537 646.3C536.5 647.9 536 649.5 535.5 651.1C534.9 652.7 534.4 654.2 533.9 655.8C533.4 657.4 532.8 659 532.3 660.6C531.8 662.2 531.2 663.8 530.7 665.3C530.1 666.9 529.6 668.5 529 670.1C528.4 671.7 527.8 673.2 527.3 674.8C526.7 676.4 526.1 678 525.4 679.5C524.8 681.1 524.2 682.7 523.5 684.2C522.9 685.8 522.2 687.3 521.6 688.9C520.9 690.4 520.2 692 519.5 693.5C518.7 695.1 518 696.6 517.2 698.1C516.5 699.7 515.7 701.2 514.8 702.7C514 704.2 513.1 705.6 512.2 707.1C511.3 708.5 510.4 710 509.4 711.3C508.4 712.7 507.4 714.1 506.3 715.4C505.2 716.7 504.1 718 502.9 719.2C501.6 720.3 500.4 721.4 499 722.2C497.7 722.9 496.2 723.4 494.8 723.7C493.3 724 491.7 724 490.2 723.9C488.7 723.8 487.1 723.4 485.5 722.9C484 722.4 482.5 721.8 481 721C479.5 720.2 478 719.3 476.6 718.3C475.2 717.4 473.8 716.3 472.5 715.2C471.1 714.1 469.8 713 468.5 711.8C467.3 710.6 466 709.4 464.8 708.2C463.6 707 462.5 705.8 461.3 704.5C460.2 703.2 459.1 701.9 458 700.6C457 699.3 455.9 698 454.9 696.6C453.9 695.3 452.9 693.9 451.9 692.5C450.9 691.1 450 689.7 449.1 688.3C448.1 686.9 447.2 685.5 446.3 684C445.4 682.6 444.5 681.2 443.6 679.7C442.8 678.2 441.9 676.8 441.1 675.3C440.2 673.8 439.4 672.4 438.5 670.9C437.7 669.4 436.9 667.9 436 666.4C435.2 664.9 434.4 663.5 433.5 662C432.7 660.5 431.9 659 431.1 657.5C430.2 656.1 429.4 654.6 428.5 653.1C427.7 651.6 426.9 650.2 426 648.7C425.1 647.3 424.3 645.8 423.4 644.4C422.5 643 421.6 641.5 420.7 640.1C419.8 638.7 418.8 637.3 417.9 636C416.9 634.6 416 633.2 415 631.9C414 630.5 413 629.2 411.9 627.9C410.9 626.6 409.9 625.3 408.8 624C407.7 622.7 406.7 621.5 405.6 620.2C404.5 619 403.3 617.7 402.2 616.5C401.1 615.3 399.9 614.1 398.7 612.9C397.6 611.8 396.4 610.6 395.2 609.4C394 608.3 392.8 607.2 391.5 606C390.3 604.9 389.1 603.8 387.8 602.8C386.5 601.7 385.3 600.6 384 599.6C382.7 598.5 381.4 597.5 380.1 596.5C378.7 595.5 377.4 594.5 376.1 593.5C374.7 592.5 373.4 591.5 372 590.6C370.6 589.6 369.2 588.7 367.8 587.8C366.4 586.9 365 586 363.6 585.1C362.2 584.2 360.8 583.4 359.3 582.5C357.9 581.7 356.4 580.9 354.9 580.1C353.5 579.2 352 578.5 350.5 577.7C349 576.9 347.5 576.1 346 575.4C344.5 574.7 343 574 341.5 573.2C340 572.5 338.4 571.9 336.9 571.2C335.3 570.5 333.8 569.9 332.2 569.2C330.7 568.6 329.1 568 327.5 567.4C326 566.8 324.4 566.2 322.8 565.7C321.2 565.1 319.6 564.5 318 564C316.4 563.5 314.8 563 313.2 562.5C311.6 562 310 561.5 308.3 561.1C306.7 560.6 305.1 560.2 303.4 559.8C301.8 559.4 300.2 559 298.5 558.6C296.9 558.2 295.2 557.8 293.6 557.5C291.9 557.2 290.3 556.8 288.6 556.5C286.9 556.2 285.3 555.9 283.6 555.7C281.9 555.4 280.3 555.1 278.6 554.9C276.9 554.7 275.3 554.4 273.6 554.3C271.9 554.1 270.2 553.9 268.6 553.7C266.9 553.6 265.2 553.4 263.5 553.3C261.9 553.2 260.2 553.1 258.5 553C256.8 552.9 255.1 552.9 253.5 552.8C251.8 552.8 250.1 552.7 248.4 552.7C246.7 552.7 245.1 552.7 243.4 552.8C241.7 552.8 240 552.8 238.4 552.9C236.7 553 235 553.1 233.4 553.2C231.7 553.3 230 553.4 228.4 553.6C226.7 553.7 225.1 553.9 223.4 554.1C221.7 554.2 220.1 554.4 218.4 554.7C216.8 554.9 214.3 555.3 213.5 555.4" fill="none" stroke="#262626" stroke-width="2.1" stroke-linecap="round" stroke-linejoin="round"/>
<path d="M213.5 508C213.5 511.8 213.5 527.2 213.5 531" fill="none" stroke="#262626" stroke-width="3.0" stroke-linecap="round" stroke-linejoin="round"/>
<path d="M238.3 500C238.2 502.3 237.8 511.7 237.7 514" fill="none" stroke="#262626" stroke-width="2.2" stroke-linecap="round" stroke-linejoin="round"/>
<path d="M950 404.8C958.3 404.7 985.3 404.2 1000 404C1014.7 403.8 1031.7 403.4 1038 403.3" fill="none" stroke="#262626" stroke-width="4.2" stroke-linecap="round" stroke-linejoin="round"/>
<path d="M965 411.5C970.8 411.6 988.2 412.1 1000 412.3C1011.8 412.6 1030 412.9 1036 413" fill="none" stroke="#777" stroke-width="2.6" stroke-linecap="round" stroke-linejoin="round"/>
<line x1="354" y1="369" x2="514" y2="369" stroke="#4a4a4a" stroke-width="2.6" stroke-linecap="round"/>
<polygon points="525.5,369 512,372.6 512,365.4" fill="#2a2a2a"/>
<line x1="620.7" y1="235.6" x2="658.4" y2="131.2" stroke="#4a4a4a" stroke-width="2.6" stroke-linecap="round"/>
<polygon points="662.3,120.4 661.1,134.3 654.3,131.9" fill="#2a2a2a"/>
<line x1="850.6" y1="245.5" x2="897.7" y2="291" stroke="#4a4a4a" stroke-width="2.6" stroke-linecap="round"/>
<polygon points="906,299 893.8,292.2 898.8,287" fill="#2a2a2a"/>
<line x1="833.3" y1="442" x2="703.7" y2="464.8" stroke="#4a4a4a" stroke-width="2.6" stroke-linecap="round"/>
<polygon points="692.4,466.8 705.1,460.9 706.3,468" fill="#2a2a2a"/>
<line x1="421.2" y1="665.7" x2="359.1" y2="606.2" stroke="#4a4a4a" stroke-width="2.6" stroke-linecap="round"/>
<polygon points="350.8,598.2 363,604.9 358.1,610.1" fill="#2a2a2a"/>
<text x="738.7" y="61.7" font-family='"Liberation Sans", Arial, sans-serif' font-size="20.5" font-weight="bold" text-anchor="middle" fill="#222" textLength="33.5" lengthAdjust="spacingAndGlyphs">(vi)</text>
<text x="718.5" y="108.5" font-family='"Liberation Sans", Arial, sans-serif' font-size="20.5" font-weight="bold" text-anchor="middle" fill="#222" textLength="28" lengthAdjust="spacingAndGlyphs">(v)</text>
<text x="708.5" y="151" font-family='"Liberation Sans", Arial, sans-serif' font-size="20.5" font-weight="bold" text-anchor="middle" fill="#222" textLength="33" lengthAdjust="spacingAndGlyphs">(iv)</text>
<text x="692" y="197" font-family='"Liberation Sans", Arial, sans-serif' font-size="20.5" font-weight="bold" text-anchor="middle" fill="#222" textLength="33" lengthAdjust="spacingAndGlyphs">(iii)</text>
<text x="659.4" y="276" font-family='"Liberation Sans", Arial, sans-serif' font-size="20.5" font-weight="bold" text-anchor="middle" fill="#222" textLength="27" lengthAdjust="spacingAndGlyphs">(ii)</text>
<text x="640.5" y="355" font-family='"Liberation Sans", Arial, sans-serif' font-size="20.5" font-weight="bold" text-anchor="middle" fill="#222" textLength="20" lengthAdjust="spacingAndGlyphs">(i)</text>
</g>
<defs><linearGradient id="gB" x1="0" y1="0" x2="0" y2="1"><stop offset="0" stop-color="#6e6e6e"/><stop offset="1" stop-color="#454545"/></linearGradient></defs>
<g id="plotB">
<rect x="156.5" y="947.8" width="1001.5" height="743.7" fill="none" stroke="url(#gB)" stroke-width="4.8"/>
<line x1="211.8" y1="947.8" x2="211.8" y2="956.8" stroke="#2a2a2a" stroke-width="3.2" stroke-linecap="butt"/>
<line x1="267.5" y1="1691.5" x2="267.5" y2="1675" stroke="#2a2a2a" stroke-width="3.2" stroke-linecap="butt"/>
<line x1="267.5" y1="947.8" x2="267.5" y2="964.3" stroke="#2a2a2a" stroke-width="3.2" stroke-linecap="butt"/>
<line x1="323.1" y1="947.8" x2="323.1" y2="956.8" stroke="#2a2a2a" stroke-width="3.2" stroke-linecap="butt"/>
<line x1="378.8" y1="1691.5" x2="378.8" y2="1682.5" stroke="#2a2a2a" stroke-width="3.2" stroke-linecap="butt"/>
<line x1="378.8" y1="947.8" x2="378.8" y2="964.3" stroke="#2a2a2a" stroke-width="3.2" stroke-linecap="butt"/>
<line x1="434.4" y1="947.8" x2="434.4" y2="956.8" stroke="#2a2a2a" stroke-width="3.2" stroke-linecap="butt"/>
<line x1="490.1" y1="1691.5" x2="490.1" y2="1675" stroke="#2a2a2a" stroke-width="3.2" stroke-linecap="butt"/>
<line x1="490.1" y1="947.8" x2="490.1" y2="964.3" stroke="#2a2a2a" stroke-width="3.2" stroke-linecap="butt"/>
<line x1="545.8" y1="947.8" x2="545.8" y2="956.8" stroke="#2a2a2a" stroke-width="3.2" stroke-linecap="butt"/>
<line x1="601.4" y1="1691.5" x2="601.4" y2="1682.5" stroke="#2a2a2a" stroke-width="3.2" stroke-linecap="butt"/>
<line x1="601.4" y1="947.8" x2="601.4" y2="964.3" stroke="#2a2a2a" stroke-width="3.2" stroke-linecap="butt"/>
<line x1="657.1" y1="947.8" x2="657.1" y2="956.8" stroke="#2a2a2a" stroke-width="3.2" stroke-linecap="butt"/>
<line x1="712.7" y1="1691.5" x2="712.7" y2="1675" stroke="#2a2a2a" stroke-width="3.2" stroke-linecap="butt"/>
<line x1="712.7" y1="947.8" x2="712.7" y2="964.3" stroke="#2a2a2a" stroke-width="3.2" stroke-linecap="butt"/>
<line x1="768.4" y1="947.8" x2="768.4" y2="956.8" stroke="#2a2a2a" stroke-width="3.2" stroke-linecap="butt"/>
<line x1="824" y1="1691.5" x2="824" y2="1682.5" stroke="#2a2a2a" stroke-width="3.2" stroke-linecap="butt"/>
<line x1="824" y1="947.8" x2="824" y2="964.3" stroke="#2a2a2a" stroke-width="3.2" stroke-linecap="butt"/>
<line x1="879.7" y1="947.8" x2="879.7" y2="956.8" stroke="#2a2a2a" stroke-width="3.2" stroke-linecap="butt"/>
<line x1="935.3" y1="1691.5" x2="935.3" y2="1675" stroke="#2a2a2a" stroke-width="3.2" stroke-linecap="butt"/>
<line x1="935.3" y1="947.8" x2="935.3" y2="964.3" stroke="#2a2a2a" stroke-width="3.2" stroke-linecap="butt"/>
<line x1="991" y1="947.8" x2="991" y2="956.8" stroke="#2a2a2a" stroke-width="3.2" stroke-linecap="butt"/>
<line x1="1046.6" y1="1691.5" x2="1046.6" y2="1682.5" stroke="#2a2a2a" stroke-width="3.2" stroke-linecap="butt"/>
<line x1="1046.6" y1="947.8" x2="1046.6" y2="964.3" stroke="#2a2a2a" stroke-width="3.2" stroke-linecap="butt"/>
<line x1="1102.2" y1="947.8" x2="1102.2" y2="956.8" stroke="#2a2a2a" stroke-width="3.2" stroke-linecap="butt"/>
<line x1="156.5" y1="1654.2" x2="165" y2="1654.2" stroke="#2a2a2a" stroke-width="3.2" stroke-linecap="butt"/>
<line x1="1158" y1="1654.2" x2="1149.5" y2="1654.2" stroke="#2a2a2a" stroke-width="3.2" stroke-linecap="butt"/>
<line x1="156.5" y1="1617" x2="171.5" y2="1617" stroke="#2a2a2a" stroke-width="3.2" stroke-linecap="butt"/>
<line x1="1158" y1="1617" x2="1143" y2="1617" stroke="#2a2a2a" stroke-width="3.2" stroke-linecap="butt"/>
<line x1="156.5" y1="1579.8" x2="165" y2="1579.8" stroke="#2a2a2a" stroke-width="3.2" stroke-linecap="butt"/>
<line x1="1158" y1="1579.8" x2="1149.5" y2="1579.8" stroke="#2a2a2a" stroke-width="3.2" stroke-linecap="butt"/>
<line x1="156.5" y1="1542.6" x2="171.5" y2="1542.6" stroke="#2a2a2a" stroke-width="3.2" stroke-linecap="butt"/>
<line x1="1158" y1="1542.6" x2="1143" y2="1542.6" stroke="#2a2a2a" stroke-width="3.2" stroke-linecap="butt"/>
<line x1="156.5" y1="1505.4" x2="165" y2="1505.4" stroke="#2a2a2a" stroke-width="3.2" stroke-linecap="butt"/>
<line x1="1158" y1="1505.4" x2="1149.5" y2="1505.4" stroke="#2a2a2a" stroke-width="3.2" stroke-linecap="butt"/>
<line x1="156.5" y1="1468.2" x2="171.5" y2="1468.2" stroke="#2a2a2a" stroke-width="3.2" stroke-linecap="butt"/>
<line x1="1158" y1="1468.2" x2="1143" y2="1468.2" stroke="#2a2a2a" stroke-width="3.2" stroke-linecap="butt"/>
<line x1="156.5" y1="1431" x2="165" y2="1431" stroke="#2a2a2a" stroke-width="3.2" stroke-linecap="butt"/>
<line x1="1158" y1="1431" x2="1149.5" y2="1431" stroke="#2a2a2a" stroke-width="3.2" stroke-linecap="butt"/>
<line x1="156.5" y1="1393.8" x2="171.5" y2="1393.8" stroke="#2a2a2a" stroke-width="3.2" stroke-linecap="butt"/>
<line x1="1158" y1="1393.8" x2="1143" y2="1393.8" stroke="#2a2a2a" stroke-width="3.2" stroke-linecap="butt"/>
<line x1="156.5" y1="1356.6" x2="165" y2="1356.6" stroke="#2a2a2a" stroke-width="3.2" stroke-linecap="butt"/>
<line x1="1158" y1="1356.6" x2="1149.5" y2="1356.6" stroke="#2a2a2a" stroke-width="3.2" stroke-linecap="butt"/>
<line x1="156.5" y1="1319.4" x2="171.5" y2="1319.4" stroke="#2a2a2a" stroke-width="3.2" stroke-linecap="butt"/>
<line x1="1158" y1="1319.4" x2="1143" y2="1319.4" stroke="#2a2a2a" stroke-width="3.2" stroke-linecap="butt"/>
<line x1="156.5" y1="1282.2" x2="165" y2="1282.2" stroke="#2a2a2a" stroke-width="3.2" stroke-linecap="butt"/>
<line x1="1158" y1="1282.2" x2="1149.5" y2="1282.2" stroke="#2a2a2a" stroke-width="3.2" stroke-linecap="butt"/>
<line x1="156.5" y1="1245" x2="171.5" y2="1245" stroke="#2a2a2a" stroke-width="3.2" stroke-linecap="butt"/>
<line x1="1158" y1="1245" x2="1143" y2="1245" stroke="#2a2a2a" stroke-width="3.2" stroke-linecap="butt"/>
<line x1="156.5" y1="1207.8" x2="165" y2="1207.8" stroke="#2a2a2a" stroke-width="3.2" stroke-linecap="butt"/>
<line x1="1158" y1="1207.8" x2="1149.5" y2="1207.8" stroke="#2a2a2a" stroke-width="3.2" stroke-linecap="butt"/>
<line x1="156.5" y1="1170.6" x2="171.5" y2="1170.6" stroke="#2a2a2a" stroke-width="3.2" stroke-linecap="butt"/>
<line x1="1158" y1="1170.6" x2="1143" y2="1170.6" stroke="#2a2a2a" stroke-width="3.2" stroke-linecap="butt"/>
<line x1="156.5" y1="1133.4" x2="165" y2="1133.4" stroke="#2a2a2a" stroke-width="3.2" stroke-linecap="butt"/>
<line x1="1158" y1="1133.4" x2="1149.5" y2="1133.4" stroke="#2a2a2a" stroke-width="3.2" stroke-linecap="butt"/>
<line x1="156.5" y1="1096.2" x2="171.5" y2="1096.2" stroke="#2a2a2a" stroke-width="3.2" stroke-linecap="butt"/>
<line x1="1158" y1="1096.2" x2="1143" y2="1096.2" stroke="#2a2a2a" stroke-width="3.2" stroke-linecap="butt"/>
<line x1="156.5" y1="1059" x2="165" y2="1059" stroke="#2a2a2a" stroke-width="3.2" stroke-linecap="butt"/>
<line x1="1158" y1="1059" x2="1149.5" y2="1059" stroke="#2a2a2a" stroke-width="3.2" stroke-linecap="butt"/>
<line x1="156.5" y1="1021.8" x2="171.5" y2="1021.8" stroke="#2a2a2a" stroke-width="3.2" stroke-linecap="butt"/>
<line x1="1158" y1="1021.8" x2="1143" y2="1021.8" stroke="#2a2a2a" stroke-width="3.2" stroke-linecap="butt"/>
<line x1="156.5" y1="984.6" x2="165" y2="984.6" stroke="#2a2a2a" stroke-width="3.2" stroke-linecap="butt"/>
<line x1="1158" y1="984.6" x2="1149.5" y2="984.6" stroke="#2a2a2a" stroke-width="3.2" stroke-linecap="butt"/>
<text x="267.5" y="1736" font-family='"Liberation Sans", Arial, sans-serif' font-size="34" font-weight="bold" text-anchor="middle" fill="#111" stroke="#111" stroke-width="0.48" stroke-linejoin="round">0.0002</text>
<text x="490.1" y="1736" font-family='"Liberation Sans", Arial, sans-serif' font-size="34" font-weight="bold" text-anchor="middle" fill="#111" stroke="#111" stroke-width="0.48" stroke-linejoin="round">0.0004</text>
<text x="712.7" y="1736" font-family='"Liberation Sans", Arial, sans-serif' font-size="34" font-weight="bold" text-anchor="middle" fill="#111" stroke="#111" stroke-width="0.48" stroke-linejoin="round">0.0006</text>
<text x="935.3" y="1736" font-family='"Liberation Sans", Arial, sans-serif' font-size="34" font-weight="bold" text-anchor="middle" fill="#111" stroke="#111" stroke-width="0.48" stroke-linejoin="round">0.0008</text>
<text x="1157.9" y="1736" font-family='"Liberation Sans", Arial, sans-serif' font-size="34" font-weight="bold" text-anchor="middle" fill="#111" stroke="#111" stroke-width="0.48" stroke-linejoin="round">0.0010</text>
<text x="138" y="957" font-family='"Liberation Sans", Arial, sans-serif' font-size="35" font-weight="bold" text-anchor="end" fill="#111" stroke="#111" stroke-width="0.49" stroke-linejoin="round">0.25</text>
<text x="138" y="1031.4" font-family='"Liberation Sans", Arial, sans-serif' font-size="35" font-weight="bold" text-anchor="end" fill="#111" stroke="#111" stroke-width="0.49" stroke-linejoin="round">0.20</text>
<text x="138" y="1105.8" font-family='"Liberation Sans", Arial, sans-serif' font-size="35" font-weight="bold" text-anchor="end" fill="#111" stroke="#111" stroke-width="0.49" stroke-linejoin="round">0.15</text>
<text x="138" y="1180.2" font-family='"Liberation Sans", Arial, sans-serif' font-size="35" font-weight="bold" text-anchor="end" fill="#111" stroke="#111" stroke-width="0.49" stroke-linejoin="round">0.10</text>
<text x="138" y="1254.6" font-family='"Liberation Sans", Arial, sans-serif' font-size="35" font-weight="bold" text-anchor="end" fill="#111" stroke="#111" stroke-width="0.49" stroke-linejoin="round">0.05</text>
<text x="138" y="1329" font-family='"Liberation Sans", Arial, sans-serif' font-size="35" font-weight="bold" text-anchor="end" fill="#111" stroke="#111" stroke-width="0.49" stroke-linejoin="round">0.00</text>
<text x="138" y="1403.4" font-family='"Liberation Sans", Arial, sans-serif' font-size="35" font-weight="bold" text-anchor="end" fill="#111" stroke="#111" stroke-width="0.49" stroke-linejoin="round">-0.05</text>
<text x="138" y="1477.8" font-family='"Liberation Sans", Arial, sans-serif' font-size="35" font-weight="bold" text-anchor="end" fill="#111" stroke="#111" stroke-width="0.49" stroke-linejoin="round">-0.10</text>
<text x="138" y="1552.2" font-family='"Liberation Sans", Arial, sans-serif' font-size="35" font-weight="bold" text-anchor="end" fill="#111" stroke="#111" stroke-width="0.49" stroke-linejoin="round">-0.15</text>
<text x="138" y="1626.6" font-family='"Liberation Sans", Arial, sans-serif' font-size="35" font-weight="bold" text-anchor="end" fill="#111" stroke="#111" stroke-width="0.49" stroke-linejoin="round">-0.20</text>
<text x="138" y="1701" font-family='"Liberation Sans", Arial, sans-serif' font-size="35" font-weight="bold" text-anchor="end" fill="#111" stroke="#111" stroke-width="0.49" stroke-linejoin="round">-0.25</text>
<text x="291" y="1786.5" font-family='"Liberation Sans", Arial, sans-serif' font-size="43.5" font-weight="bold" text-anchor="start" fill="#111" textLength="666" lengthAdjust="spacingAndGlyphs" stroke="#111" stroke-width="0.61" stroke-linejoin="round">Sqare root of scan rate / (V s<tspan dy="-19" font-size="24">-1</tspan><tspan dy="19">)</tspan><tspan dy="-24" font-size="24">1/2</tspan></text>
<g transform="translate(44.2 1628.5) rotate(-90)">
<text x="0" y="0" font-family='"Liberation Sans", Arial, sans-serif' font-size="45.2" font-weight="bold" text-anchor="start" fill="#111" textLength="632" lengthAdjust="spacingAndGlyphs" stroke="#111" stroke-width="0.63" stroke-linejoin="round">Peak current density / mA cm</text>
<text x="636" y="-24" font-family='"Liberation Sans", Arial, sans-serif' font-size="21" font-weight="bold" text-anchor="start" fill="#111" textLength="20" lengthAdjust="spacingAndGlyphs" stroke="#111" stroke-width="0.29" stroke-linejoin="round">-2</text>
</g>
<text x="1050" y="1022" font-family='"Liberation Serif", "Times New Roman", serif' font-size="56" font-weight="normal" text-anchor="middle" fill="#111" textLength="78" lengthAdjust="spacingAndGlyphs">(B)</text>
<ellipse cx="294.3" cy="1251.3" rx="7.1" ry="7.7" fill="#fff" stroke="#333" stroke-width="1.7"/>
<ellipse cx="397.6" cy="1190.4" rx="7.1" ry="7.7" fill="#fff" stroke="#333" stroke-width="1.7"/>
<ellipse cx="543.5" cy="1135.2" rx="7.1" ry="7.7" fill="#fff" stroke="#333" stroke-width="1.7"/>
<ellipse cx="655" cy="1095" rx="7.1" ry="7.7" fill="#fff" stroke="#333" stroke-width="1.7"/>
<ellipse cx="750" cy="1043.5" rx="7.1" ry="7.7" fill="#fff" stroke="#333" stroke-width="1.7"/>
<ellipse cx="832.5" cy="1001.5" rx="7.1" ry="7.7" fill="#fff" stroke="#333" stroke-width="1.7"/>
<line x1="240.2" y1="1270.5" x2="887.5" y2="982.5" stroke="#161616" stroke-width="2.9" stroke-linecap="round"/>
<line x1="240.2" y1="1357.8" x2="888.5" y2="1616" stroke="#161616" stroke-width="2.9" stroke-linecap="round"/>
<circle cx="294.3" cy="1374" r="8" fill="#111"/>
<circle cx="397.5" cy="1421" r="8" fill="#111"/>
<circle cx="543.5" cy="1485.5" r="8" fill="#111"/>
<circle cx="655" cy="1520" r="8" fill="#111"/>
<circle cx="750" cy="1558" r="8" fill="#111"/>
<circle cx="832.5" cy="1593.5" r="8" fill="#111"/>
</g>
</svg>
</body></html>
